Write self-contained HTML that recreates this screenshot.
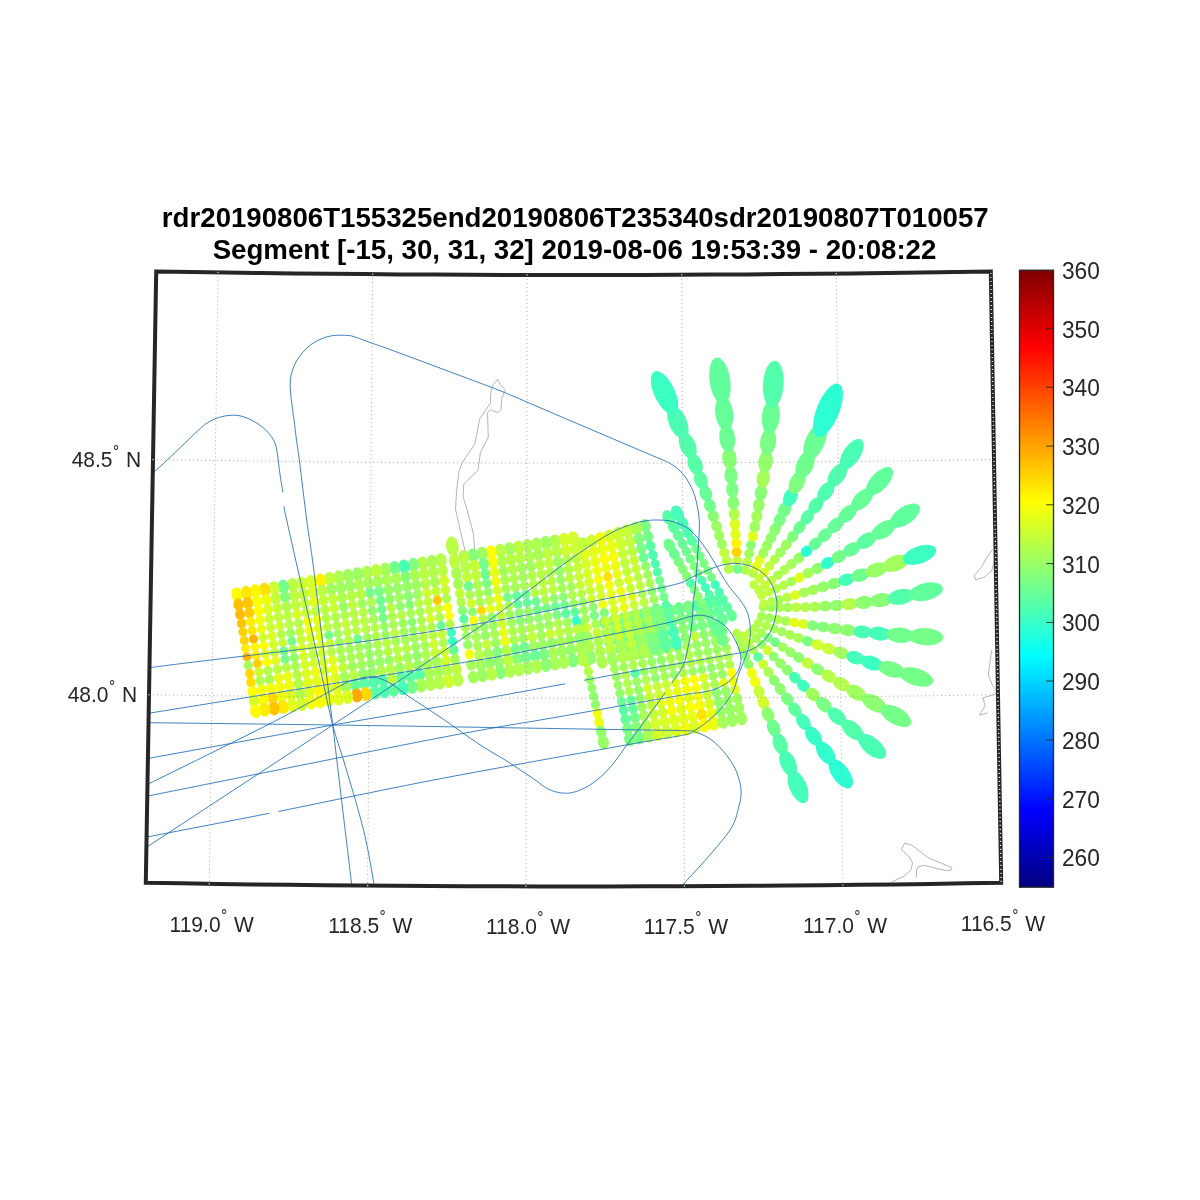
<!DOCTYPE html>
<html lang="en"><head><meta charset="utf-8"><title>rdr20190806T155325end20190806T235340sdr20190807T010057</title>
<style>html,body{margin:0;padding:0;background:#fff}svg{display:block}text{font-family:"Liberation Sans",Arial,Helvetica,sans-serif;fill:#262626}.t{font-weight:bold;font-size:27.65px;fill:#000;text-anchor:middle}.g{font-size:21px}.c{font-size:22.7px}.d{font-size:15.5px}svg{will-change:transform}</style></head><body>
<svg width="1200" height="1200" viewBox="0 0 1200 1200">
<rect width="1200" height="1200" fill="#fff"/>
<defs><linearGradient id="jet" x1="0" y1="1" x2="0" y2="0">
<stop offset="0" stop-color="#000080"/>
<stop offset="0.125" stop-color="#0000ff"/>
<stop offset="0.375" stop-color="#00ffff"/>
<stop offset="0.625" stop-color="#ffff00"/>
<stop offset="0.875" stop-color="#ff0000"/>
<stop offset="1" stop-color="#800000"/>
</linearGradient>
<clipPath id="clip"><path d="M156.2 271.5 L191 272 L225.7 272.5 L260.5 273 L295.3 273.4 L330.1 273.8 L364.8 274.1 L399.6 274.4 L434.4 274.6 L469.2 274.8 L503.9 274.9 L538.7 275 L573.5 275 L608.3 275 L643.1 274.9 L677.8 274.8 L712.6 274.6 L747.4 274.4 L782.2 274.1 L816.9 273.8 L851.7 273.4 L886.5 273 L921.3 272.5 L956 272 L990.8 271.5 L1001.2 882.8 L965.5 883.3 L929.9 883.9 L894.3 884.4 L858.6 884.8 L823 885.2 L787.3 885.5 L751.7 885.8 L716.1 886 L680.4 886.2 L644.8 886.3 L609.1 886.4 L573.5 886.4 L537.9 886.4 L502.2 886.3 L466.6 886.2 L430.9 886 L395.3 885.8 L359.7 885.5 L324 885.2 L288.4 884.8 L252.7 884.4 L217.1 883.9 L181.5 883.3 L145.8 882.8 L156.2 271.5Z"/></clipPath></defs>
<g clip-path="url(#clip)">
<g fill="none" stroke="#b4b4b4" stroke-width="1" stroke-linejoin="round">
<path d="M465.3 552.2 L460.6 531.6 L455.5 509.4 L456.6 490.4 L459 471.4 L462.2 462.7 L474.9 443.7 L479.6 419.1 L490.4 403.3 L490.7 393.8 L492.3 385.8 L497.8 379.5 L500.2 384.3 L505.3 389.8 L501.8 398.5 L501 409.6 L497.8 412.8 L490.7 409.6 L487.5 412.8 L488.3 437.3 L480.4 452.4 L478 470.6 L463.8 484.1 L463 496.7 L467 509.4 L473.3 533.2 L474.9 552.2 L476 575"/>
<path d="M992.7 549.3 L987 557 L981.8 566.7 L974.3 575.3 L975.3 579.7 L984 577.5 L991.6 571 L994.4 561.3"/>
<path d="M991.6 650.1 L990 663 L988.3 675 L992.7 685.9 L997 691.3 L994.8 694.5 L982.9 697.8 L985.1 705.4 L979.7 715.1 L987.7 712.9"/>
<path d="M891.9 881.9 L905 875.6 L911.3 869.4 L912.5 862.5 L908.8 856.3 L901.3 849.4 L904.8 843.1 L911.9 845.3 L928.8 858.1 L951.9 867.5 L951.3 870 L946.3 870.6 L935 868.1 L923.8 865.3 L918.1 866.9 L916.5 870 L916.5 877.5"/>
</g>
<g>
<ellipse cx="578.6" cy="625.6" rx="7.05" ry="5.47" fill="#84ff7b" transform="rotate(78.0 578.6 625.6)"/>
<ellipse cx="580.8" cy="635.9" rx="6.17" ry="5.16" fill="#84ff7b" transform="rotate(78.0 580.8 635.9)"/>
<ellipse cx="582.8" cy="645.5" rx="5.54" ry="4.92" fill="#8eff71" transform="rotate(78.0 582.8 645.5)"/>
<ellipse cx="584.7" cy="654.5" rx="5.08" ry="4.73" fill="#a2ff5e" transform="rotate(78.0 584.7 654.5)"/>
<ellipse cx="586.6" cy="663.2" rx="4.77" ry="4.60" fill="#baff45" transform="rotate(78.0 586.6 663.2)"/>
<circle cx="588.4" cy="671.6" r="4.58" fill="#b5ff4a"/>
<circle cx="590.1" cy="679.8" r="4.49" fill="#9dff62"/>
<circle cx="591.9" cy="688.0" r="4.49" fill="#93ff6c"/>
<circle cx="593.6" cy="696.2" r="4.58" fill="#8eff71"/>
<ellipse cx="595.4" cy="704.6" rx="4.77" ry="4.60" fill="#93ff6c" transform="rotate(78.0 595.4 704.6)"/>
<ellipse cx="597.3" cy="713.3" rx="5.08" ry="4.73" fill="#f4ff0b" transform="rotate(78.0 597.3 713.3)"/>
<ellipse cx="599.2" cy="722.3" rx="5.54" ry="4.92" fill="#eaff15" transform="rotate(78.0 599.2 722.3)"/>
<ellipse cx="601.2" cy="731.9" rx="6.17" ry="5.16" fill="#93ff6c" transform="rotate(78.0 601.2 731.9)"/>
<ellipse cx="603.4" cy="742.2" rx="7.05" ry="5.47" fill="#98ff67" transform="rotate(78.0 603.4 742.2)"/>
<ellipse cx="604.9" cy="622.8" rx="7.05" ry="5.47" fill="#82ff7d" transform="rotate(78.0 604.9 622.8)"/>
<ellipse cx="607.1" cy="633.1" rx="6.17" ry="5.16" fill="#8dff72" transform="rotate(78.0 607.1 633.1)"/>
<ellipse cx="609.1" cy="642.6" rx="5.54" ry="4.92" fill="#88ff77" transform="rotate(78.0 609.1 642.6)"/>
<ellipse cx="611.0" cy="651.7" rx="5.08" ry="4.73" fill="#7cff83" transform="rotate(78.0 611.0 651.7)"/>
<ellipse cx="612.9" cy="660.3" rx="4.77" ry="4.60" fill="#9eff61" transform="rotate(78.0 612.9 660.3)"/>
<circle cx="614.6" cy="668.7" r="4.58" fill="#a2ff5d"/>
<circle cx="616.4" cy="676.9" r="4.49" fill="#9dff62"/>
<circle cx="618.1" cy="685.1" r="4.49" fill="#9cff63"/>
<circle cx="619.9" cy="693.3" r="4.58" fill="#92ff6d"/>
<ellipse cx="621.6" cy="701.7" rx="4.77" ry="4.60" fill="#6cff93" transform="rotate(78.0 621.6 701.7)"/>
<ellipse cx="623.5" cy="710.3" rx="5.08" ry="4.73" fill="#59ffa6" transform="rotate(78.0 623.5 710.3)"/>
<ellipse cx="625.4" cy="719.4" rx="5.54" ry="4.92" fill="#62ff9d" transform="rotate(78.0 625.4 719.4)"/>
<ellipse cx="627.4" cy="728.9" rx="6.17" ry="5.16" fill="#7bff84" transform="rotate(78.0 627.4 728.9)"/>
<ellipse cx="629.6" cy="739.2" rx="7.05" ry="5.47" fill="#7fff80" transform="rotate(78.0 629.6 739.2)"/>
<ellipse cx="614.2" cy="621.1" rx="7.05" ry="5.47" fill="#8cff73" transform="rotate(78.0 614.2 621.1)"/>
<ellipse cx="616.4" cy="631.4" rx="6.17" ry="5.16" fill="#76ff89" transform="rotate(78.0 616.4 631.4)"/>
<ellipse cx="618.4" cy="640.9" rx="5.54" ry="4.92" fill="#77ff88" transform="rotate(78.0 618.4 640.9)"/>
<ellipse cx="620.3" cy="649.9" rx="5.08" ry="4.73" fill="#77ff88" transform="rotate(78.0 620.3 649.9)"/>
<ellipse cx="622.2" cy="658.6" rx="4.77" ry="4.60" fill="#9eff61" transform="rotate(78.0 622.2 658.6)"/>
<circle cx="623.9" cy="667.0" r="4.58" fill="#a0ff5f"/>
<circle cx="625.7" cy="675.2" r="4.49" fill="#b1ff4e"/>
<circle cx="627.4" cy="683.4" r="4.49" fill="#aeff51"/>
<circle cx="629.2" cy="691.6" r="4.58" fill="#afff50"/>
<ellipse cx="631.0" cy="700.0" rx="4.77" ry="4.60" fill="#62ff9d" transform="rotate(78.0 631.0 700.0)"/>
<ellipse cx="632.8" cy="708.6" rx="5.08" ry="4.73" fill="#62ff9d" transform="rotate(78.0 632.8 708.6)"/>
<ellipse cx="634.7" cy="717.6" rx="5.54" ry="4.92" fill="#71ff8e" transform="rotate(78.0 634.7 717.6)"/>
<ellipse cx="636.7" cy="727.2" rx="6.17" ry="5.16" fill="#88ff77" transform="rotate(78.0 636.7 727.2)"/>
<ellipse cx="638.9" cy="737.5" rx="7.05" ry="5.47" fill="#7aff85" transform="rotate(78.0 638.9 737.5)"/>
<ellipse cx="623.5" cy="619.4" rx="7.05" ry="5.47" fill="#83ff7c" transform="rotate(78.0 623.5 619.4)"/>
<ellipse cx="625.7" cy="629.6" rx="6.17" ry="5.16" fill="#6eff91" transform="rotate(78.0 625.7 629.6)"/>
<ellipse cx="627.7" cy="639.2" rx="5.54" ry="4.92" fill="#7cff83" transform="rotate(78.0 627.7 639.2)"/>
<ellipse cx="629.6" cy="648.2" rx="5.08" ry="4.73" fill="#8eff71" transform="rotate(78.0 629.6 648.2)"/>
<ellipse cx="631.5" cy="656.9" rx="4.77" ry="4.60" fill="#adff52" transform="rotate(78.0 631.5 656.9)"/>
<circle cx="633.2" cy="665.2" r="4.58" fill="#aeff51"/>
<circle cx="635.0" cy="673.5" r="4.49" fill="#59ffa6"/>
<circle cx="636.7" cy="681.6" r="4.49" fill="#99ff66"/>
<circle cx="638.5" cy="689.9" r="4.58" fill="#94ff6b"/>
<ellipse cx="640.3" cy="698.2" rx="4.77" ry="4.60" fill="#95ff6a" transform="rotate(78.0 640.3 698.2)"/>
<ellipse cx="642.1" cy="706.9" rx="5.08" ry="4.73" fill="#a2ff5d" transform="rotate(78.0 642.1 706.9)"/>
<ellipse cx="644.0" cy="715.9" rx="5.54" ry="4.92" fill="#a8ff57" transform="rotate(78.0 644.0 715.9)"/>
<ellipse cx="646.1" cy="725.5" rx="6.17" ry="5.16" fill="#b1ff4e" transform="rotate(78.0 646.1 725.5)"/>
<ellipse cx="648.2" cy="735.7" rx="7.05" ry="5.47" fill="#a9ff56" transform="rotate(78.0 648.2 735.7)"/>
<ellipse cx="632.8" cy="617.7" rx="7.05" ry="5.47" fill="#85ff7a" transform="rotate(78.0 632.8 617.7)"/>
<ellipse cx="635.0" cy="627.9" rx="6.17" ry="5.16" fill="#89ff76" transform="rotate(78.0 635.0 627.9)"/>
<ellipse cx="637.0" cy="637.5" rx="5.54" ry="4.92" fill="#7eff81" transform="rotate(78.0 637.0 637.5)"/>
<ellipse cx="638.9" cy="646.5" rx="5.08" ry="4.73" fill="#81ff7e" transform="rotate(78.0 638.9 646.5)"/>
<ellipse cx="640.8" cy="655.1" rx="4.77" ry="4.60" fill="#91ff6e" transform="rotate(78.0 640.8 655.1)"/>
<circle cx="642.6" cy="663.5" r="4.58" fill="#abff54"/>
<circle cx="644.3" cy="671.7" r="4.49" fill="#98ff67"/>
<circle cx="646.0" cy="679.9" r="4.49" fill="#b0ff4f"/>
<circle cx="647.8" cy="688.1" r="4.58" fill="#d2ff2d"/>
<ellipse cx="649.6" cy="696.5" rx="4.77" ry="4.60" fill="#c6ff39" transform="rotate(78.0 649.6 696.5)"/>
<ellipse cx="651.4" cy="705.1" rx="5.08" ry="4.73" fill="#c0ff3f" transform="rotate(78.0 651.4 705.1)"/>
<ellipse cx="653.3" cy="714.2" rx="5.54" ry="4.92" fill="#c5ff3a" transform="rotate(78.0 653.3 714.2)"/>
<ellipse cx="655.4" cy="723.7" rx="6.17" ry="5.16" fill="#d2ff2d" transform="rotate(78.0 655.4 723.7)"/>
<ellipse cx="657.5" cy="734.0" rx="7.05" ry="5.47" fill="#d4ff2b" transform="rotate(78.0 657.5 734.0)"/>
<ellipse cx="642.1" cy="616.0" rx="7.05" ry="5.47" fill="#72ff8d" transform="rotate(78.0 642.1 616.0)"/>
<ellipse cx="644.3" cy="626.2" rx="6.17" ry="5.16" fill="#70ff8f" transform="rotate(78.0 644.3 626.2)"/>
<ellipse cx="646.3" cy="635.8" rx="5.54" ry="4.92" fill="#80ff7f" transform="rotate(78.0 646.3 635.8)"/>
<ellipse cx="648.2" cy="644.8" rx="5.08" ry="4.73" fill="#82ff7d" transform="rotate(78.0 648.2 644.8)"/>
<ellipse cx="650.1" cy="653.4" rx="4.77" ry="4.60" fill="#9eff61" transform="rotate(78.0 650.1 653.4)"/>
<circle cx="651.9" cy="661.8" r="4.58" fill="#98ff67"/>
<circle cx="653.6" cy="670.0" r="4.49" fill="#a5ff5a"/>
<circle cx="655.4" cy="678.2" r="4.49" fill="#90ff6f"/>
<circle cx="657.1" cy="686.4" r="4.58" fill="#c6ff39"/>
<ellipse cx="658.9" cy="694.8" rx="4.77" ry="4.60" fill="#ccff33" transform="rotate(78.0 658.9 694.8)"/>
<ellipse cx="660.7" cy="703.4" rx="5.08" ry="4.73" fill="#ddff22" transform="rotate(78.0 660.7 703.4)"/>
<ellipse cx="662.6" cy="712.4" rx="5.54" ry="4.92" fill="#d2ff2d" transform="rotate(78.0 662.6 712.4)"/>
<ellipse cx="664.7" cy="722.0" rx="6.17" ry="5.16" fill="#dbff24" transform="rotate(78.0 664.7 722.0)"/>
<ellipse cx="666.9" cy="732.2" rx="7.05" ry="5.47" fill="#ccff33" transform="rotate(78.0 666.9 732.2)"/>
<ellipse cx="651.4" cy="614.3" rx="7.05" ry="5.47" fill="#76ff89" transform="rotate(78.0 651.4 614.3)"/>
<ellipse cx="653.6" cy="624.5" rx="6.17" ry="5.16" fill="#77ff88" transform="rotate(78.0 653.6 624.5)"/>
<ellipse cx="655.6" cy="634.1" rx="5.54" ry="4.92" fill="#90ff6f" transform="rotate(78.0 655.6 634.1)"/>
<ellipse cx="657.5" cy="643.1" rx="5.08" ry="4.73" fill="#87ff78" transform="rotate(78.0 657.5 643.1)"/>
<ellipse cx="659.4" cy="651.7" rx="4.77" ry="4.60" fill="#9bff64" transform="rotate(78.0 659.4 651.7)"/>
<circle cx="661.2" cy="660.1" r="4.58" fill="#91ff6e"/>
<circle cx="662.9" cy="668.3" r="4.49" fill="#a1ff5e"/>
<circle cx="664.7" cy="676.5" r="4.49" fill="#a8ff57"/>
<circle cx="666.4" cy="684.7" r="4.58" fill="#caff35"/>
<ellipse cx="668.2" cy="693.0" rx="4.77" ry="4.60" fill="#e2ff1d" transform="rotate(78.0 668.2 693.0)"/>
<ellipse cx="670.0" cy="701.7" rx="5.08" ry="4.73" fill="#f0ff0f" transform="rotate(78.0 670.0 701.7)"/>
<ellipse cx="672.0" cy="710.7" rx="5.54" ry="4.92" fill="#f9ff06" transform="rotate(78.0 672.0 710.7)"/>
<ellipse cx="674.0" cy="720.2" rx="6.17" ry="5.16" fill="#e1ff1e" transform="rotate(78.0 674.0 720.2)"/>
<ellipse cx="676.2" cy="730.5" rx="7.05" ry="5.47" fill="#daff25" transform="rotate(78.0 676.2 730.5)"/>
<ellipse cx="660.7" cy="612.5" rx="7.05" ry="5.47" fill="#7aff85" transform="rotate(78.0 660.7 612.5)"/>
<ellipse cx="662.9" cy="622.8" rx="6.17" ry="5.16" fill="#7dff82" transform="rotate(78.0 662.9 622.8)"/>
<ellipse cx="664.9" cy="632.3" rx="5.54" ry="4.92" fill="#86ff79" transform="rotate(78.0 664.9 632.3)"/>
<ellipse cx="666.8" cy="641.4" rx="5.08" ry="4.73" fill="#75ff8a" transform="rotate(78.0 666.8 641.4)"/>
<ellipse cx="668.7" cy="650.0" rx="4.77" ry="4.60" fill="#acff53" transform="rotate(78.0 668.7 650.0)"/>
<circle cx="670.5" cy="658.4" r="4.58" fill="#aaff55"/>
<circle cx="672.2" cy="666.6" r="4.49" fill="#a2ff5d"/>
<circle cx="674.0" cy="674.7" r="4.49" fill="#97ff68"/>
<circle cx="675.7" cy="682.9" r="4.58" fill="#deff21"/>
<ellipse cx="677.5" cy="691.3" rx="4.77" ry="4.60" fill="#eaff15" transform="rotate(78.0 677.5 691.3)"/>
<ellipse cx="679.4" cy="699.9" rx="5.08" ry="4.73" fill="#f6ff09" transform="rotate(78.0 679.4 699.9)"/>
<ellipse cx="681.3" cy="709.0" rx="5.54" ry="4.92" fill="#e1ff1e" transform="rotate(78.0 681.3 709.0)"/>
<ellipse cx="683.3" cy="718.5" rx="6.17" ry="5.16" fill="#e1ff1e" transform="rotate(78.0 683.3 718.5)"/>
<ellipse cx="685.5" cy="728.8" rx="7.05" ry="5.47" fill="#f3ff0c" transform="rotate(78.0 685.5 728.8)"/>
<ellipse cx="670.0" cy="610.8" rx="7.05" ry="5.47" fill="#78ff87" transform="rotate(77.9 670.0 610.8)"/>
<ellipse cx="672.2" cy="621.1" rx="6.17" ry="5.16" fill="#8fff70" transform="rotate(77.9 672.2 621.1)"/>
<ellipse cx="674.2" cy="630.6" rx="5.54" ry="4.92" fill="#7fff80" transform="rotate(77.9 674.2 630.6)"/>
<ellipse cx="676.2" cy="639.6" rx="5.08" ry="4.73" fill="#75ff8a" transform="rotate(77.9 676.2 639.6)"/>
<ellipse cx="678.0" cy="648.3" rx="4.77" ry="4.60" fill="#98ff67" transform="rotate(77.9 678.0 648.3)"/>
<circle cx="679.8" cy="656.6" r="4.58" fill="#9fff60"/>
<circle cx="681.5" cy="664.8" r="4.49" fill="#a7ff58"/>
<circle cx="683.3" cy="673.0" r="4.49" fill="#b1ff4e"/>
<circle cx="685.0" cy="681.2" r="4.58" fill="#f4ff0b"/>
<ellipse cx="686.8" cy="689.6" rx="4.77" ry="4.60" fill="#f9ff06" transform="rotate(77.9 686.8 689.6)"/>
<ellipse cx="688.7" cy="698.2" rx="5.08" ry="4.73" fill="#e0ff1f" transform="rotate(77.9 688.7 698.2)"/>
<ellipse cx="690.6" cy="707.2" rx="5.54" ry="4.92" fill="#fbff04" transform="rotate(77.9 690.6 707.2)"/>
<ellipse cx="692.6" cy="716.8" rx="6.17" ry="5.16" fill="#eaff15" transform="rotate(77.9 692.6 716.8)"/>
<ellipse cx="694.8" cy="727.0" rx="7.05" ry="5.47" fill="#dbff24" transform="rotate(77.9 694.8 727.0)"/>
<ellipse cx="679.3" cy="609.1" rx="7.05" ry="5.47" fill="#70ff8f" transform="rotate(77.9 679.3 609.1)"/>
<ellipse cx="681.5" cy="619.4" rx="6.17" ry="5.16" fill="#7cff83" transform="rotate(77.9 681.5 619.4)"/>
<ellipse cx="683.5" cy="628.9" rx="5.54" ry="4.92" fill="#8dff72" transform="rotate(77.9 683.5 628.9)"/>
<ellipse cx="685.5" cy="637.9" rx="5.08" ry="4.73" fill="#8dff72" transform="rotate(77.9 685.5 637.9)"/>
<ellipse cx="687.3" cy="646.5" rx="4.77" ry="4.60" fill="#aaff55" transform="rotate(77.9 687.3 646.5)"/>
<circle cx="689.1" cy="654.9" r="4.58" fill="#b3ff4c"/>
<circle cx="690.8" cy="663.1" r="4.49" fill="#b1ff4e"/>
<circle cx="692.6" cy="671.3" r="4.49" fill="#9cff63"/>
<circle cx="694.3" cy="679.5" r="4.58" fill="#f9ff06"/>
<ellipse cx="696.1" cy="687.9" rx="4.77" ry="4.60" fill="#feff01" transform="rotate(77.9 696.1 687.9)"/>
<ellipse cx="698.0" cy="696.5" rx="5.08" ry="4.73" fill="#f3ff0c" transform="rotate(77.9 698.0 696.5)"/>
<ellipse cx="699.9" cy="705.5" rx="5.54" ry="4.92" fill="#f4ff0b" transform="rotate(77.9 699.9 705.5)"/>
<ellipse cx="701.9" cy="715.0" rx="6.17" ry="5.16" fill="#ffe300" transform="rotate(77.9 701.9 715.0)"/>
<ellipse cx="704.1" cy="725.3" rx="7.05" ry="5.47" fill="#feff01" transform="rotate(77.9 704.1 725.3)"/>
<ellipse cx="688.6" cy="607.4" rx="7.05" ry="5.47" fill="#7bff84" transform="rotate(77.9 688.6 607.4)"/>
<ellipse cx="690.8" cy="617.7" rx="6.17" ry="5.16" fill="#7aff85" transform="rotate(77.9 690.8 617.7)"/>
<ellipse cx="692.8" cy="627.2" rx="5.54" ry="4.92" fill="#74ff8b" transform="rotate(77.9 692.8 627.2)"/>
<ellipse cx="694.8" cy="636.2" rx="5.08" ry="4.73" fill="#c3ff3c" transform="rotate(77.9 694.8 636.2)"/>
<ellipse cx="696.6" cy="644.8" rx="4.77" ry="4.60" fill="#9aff65" transform="rotate(77.9 696.6 644.8)"/>
<circle cx="698.4" cy="653.2" r="4.58" fill="#9cff63"/>
<circle cx="700.2" cy="661.4" r="4.49" fill="#b1ff4e"/>
<circle cx="701.9" cy="669.6" r="4.49" fill="#94ff6b"/>
<circle cx="703.7" cy="677.8" r="4.58" fill="#ddff22"/>
<ellipse cx="705.4" cy="686.1" rx="4.77" ry="4.60" fill="#c3ff3c" transform="rotate(77.9 705.4 686.1)"/>
<ellipse cx="707.3" cy="694.7" rx="5.08" ry="4.73" fill="#c8ff37" transform="rotate(77.9 707.3 694.7)"/>
<ellipse cx="709.2" cy="703.8" rx="5.54" ry="4.92" fill="#dcff23" transform="rotate(77.9 709.2 703.8)"/>
<ellipse cx="711.3" cy="713.3" rx="6.17" ry="5.16" fill="#eaff15" transform="rotate(77.9 711.3 713.3)"/>
<ellipse cx="713.5" cy="723.5" rx="7.05" ry="5.47" fill="#efff10" transform="rotate(77.9 713.5 723.5)"/>
<ellipse cx="697.9" cy="605.7" rx="7.05" ry="5.47" fill="#59ffa6" transform="rotate(77.9 697.9 605.7)"/>
<ellipse cx="700.1" cy="616.0" rx="6.17" ry="5.16" fill="#7fff80" transform="rotate(77.9 700.1 616.0)"/>
<ellipse cx="702.1" cy="625.5" rx="5.54" ry="4.92" fill="#7bff84" transform="rotate(77.9 702.1 625.5)"/>
<ellipse cx="704.1" cy="634.5" rx="5.08" ry="4.73" fill="#8eff71" transform="rotate(77.9 704.1 634.5)"/>
<ellipse cx="705.9" cy="643.1" rx="4.77" ry="4.60" fill="#97ff68" transform="rotate(77.9 705.9 643.1)"/>
<circle cx="707.7" cy="651.5" r="4.58" fill="#9dff62"/>
<circle cx="709.5" cy="659.7" r="4.49" fill="#afff50"/>
<circle cx="711.2" cy="667.8" r="4.49" fill="#91ff6e"/>
<circle cx="713.0" cy="676.0" r="4.58" fill="#9eff61"/>
<ellipse cx="714.8" cy="684.4" rx="4.77" ry="4.60" fill="#acff53" transform="rotate(77.9 714.8 684.4)"/>
<ellipse cx="716.6" cy="693.0" rx="5.08" ry="4.73" fill="#93ff6c" transform="rotate(77.9 716.6 693.0)"/>
<ellipse cx="718.5" cy="702.0" rx="5.54" ry="4.92" fill="#93ff6c" transform="rotate(77.9 718.5 702.0)"/>
<ellipse cx="720.6" cy="711.5" rx="6.17" ry="5.16" fill="#98ff67" transform="rotate(77.9 720.6 711.5)"/>
<ellipse cx="722.8" cy="721.8" rx="7.05" ry="5.47" fill="#a6ff59" transform="rotate(77.9 722.8 721.8)"/>
<ellipse cx="707.2" cy="604.0" rx="7.05" ry="5.47" fill="#4fffb0" transform="rotate(77.9 707.2 604.0)"/>
<ellipse cx="709.4" cy="614.2" rx="6.17" ry="5.16" fill="#54ffab" transform="rotate(77.9 709.4 614.2)"/>
<ellipse cx="711.4" cy="623.8" rx="5.54" ry="4.92" fill="#88ff77" transform="rotate(77.9 711.4 623.8)"/>
<ellipse cx="713.4" cy="632.8" rx="5.08" ry="4.73" fill="#8dff72" transform="rotate(77.9 713.4 632.8)"/>
<ellipse cx="715.2" cy="641.4" rx="4.77" ry="4.60" fill="#9cff63" transform="rotate(77.9 715.2 641.4)"/>
<circle cx="717.0" cy="649.7" r="4.58" fill="#9aff65"/>
<circle cx="718.8" cy="657.9" r="4.49" fill="#b2ff4d"/>
<circle cx="720.5" cy="666.1" r="4.49" fill="#a6ff59"/>
<circle cx="722.3" cy="674.3" r="4.58" fill="#99ff66"/>
<ellipse cx="724.1" cy="682.7" rx="4.77" ry="4.60" fill="#e5ff1a" transform="rotate(77.9 724.1 682.7)"/>
<ellipse cx="725.9" cy="691.3" rx="5.08" ry="4.73" fill="#98ff67" transform="rotate(77.9 725.9 691.3)"/>
<ellipse cx="727.8" cy="700.3" rx="5.54" ry="4.92" fill="#98ff67" transform="rotate(77.9 727.8 700.3)"/>
<ellipse cx="729.9" cy="709.8" rx="6.17" ry="5.16" fill="#98ff67" transform="rotate(77.9 729.9 709.8)"/>
<ellipse cx="732.1" cy="720.0" rx="7.05" ry="5.47" fill="#9dff62" transform="rotate(77.9 732.1 720.0)"/>
<ellipse cx="716.5" cy="602.3" rx="7.05" ry="5.47" fill="#54ffab" transform="rotate(77.9 716.5 602.3)"/>
<ellipse cx="718.7" cy="612.5" rx="6.17" ry="5.16" fill="#5effa2" transform="rotate(77.9 718.7 612.5)"/>
<ellipse cx="720.7" cy="622.1" rx="5.54" ry="4.92" fill="#67ff98" transform="rotate(77.9 720.7 622.1)"/>
<ellipse cx="722.7" cy="631.1" rx="5.08" ry="4.73" fill="#6fff90" transform="rotate(77.9 722.7 631.1)"/>
<ellipse cx="724.5" cy="639.7" rx="4.77" ry="4.60" fill="#98ff67" transform="rotate(77.9 724.5 639.7)"/>
<circle cx="726.3" cy="648.0" r="4.58" fill="#a1ff5e"/>
<circle cx="728.1" cy="656.2" r="4.49" fill="#b1ff4e"/>
<circle cx="729.8" cy="664.4" r="4.49" fill="#b1ff4e"/>
<circle cx="731.6" cy="672.6" r="4.58" fill="#feff01"/>
<ellipse cx="733.4" cy="680.9" rx="4.77" ry="4.60" fill="#f4ff0b" transform="rotate(77.9 733.4 680.9)"/>
<ellipse cx="735.2" cy="689.5" rx="5.08" ry="4.73" fill="#e1ff1e" transform="rotate(77.9 735.2 689.5)"/>
<ellipse cx="737.2" cy="698.5" rx="5.54" ry="4.92" fill="#a2ff5e" transform="rotate(77.9 737.2 698.5)"/>
<ellipse cx="739.2" cy="708.1" rx="6.17" ry="5.16" fill="#a2ff5e" transform="rotate(77.9 739.2 708.1)"/>
<ellipse cx="741.4" cy="718.3" rx="7.05" ry="5.47" fill="#a2ff5e" transform="rotate(77.9 741.4 718.3)"/>
<circle cx="736.8" cy="633.3" r="4.55" fill="#b3ff4c"/>
<circle cx="739.6" cy="640.8" r="4.58" fill="#a9ff56"/>
<circle cx="742.5" cy="648.4" r="4.67" fill="#a9ff56"/>
<circle cx="745.4" cy="656.2" r="4.82" fill="#8eff71"/>
<ellipse cx="748.5" cy="664.3" rx="5.05" ry="4.78" fill="#8eff71" transform="rotate(69.0 748.5 664.3)"/>
<ellipse cx="751.8" cy="672.9" rx="5.37" ry="4.93" fill="#efff10" transform="rotate(68.9 751.8 672.9)"/>
<ellipse cx="755.3" cy="681.9" rx="5.79" ry="5.11" fill="#efff10" transform="rotate(68.7 755.3 681.9)"/>
<ellipse cx="759.1" cy="691.7" rx="6.34" ry="5.34" fill="#c8ff37" transform="rotate(68.6 759.1 691.7)"/>
<ellipse cx="763.4" cy="702.5" rx="7.07" ry="5.62" fill="#d2ff2d" transform="rotate(68.4 763.4 702.5)"/>
<ellipse cx="768.1" cy="714.5" rx="8.04" ry="5.98" fill="#8eff71" transform="rotate(68.2 768.1 714.5)"/>
<ellipse cx="773.7" cy="728.2" rx="9.35" ry="6.43" fill="#71ff8e" transform="rotate(67.9 773.7 728.2)"/>
<ellipse cx="780.2" cy="744.1" rx="11.15" ry="7.00" fill="#59ffa6" transform="rotate(67.6 780.2 744.1)"/>
<ellipse cx="788.1" cy="763.2" rx="13.70" ry="7.73" fill="#4affb5" transform="rotate(67.3 788.1 763.2)"/>
<ellipse cx="798.0" cy="786.7" rx="17.47" ry="8.69" fill="#45ffba" transform="rotate(66.9 798.0 786.7)"/>
<circle cx="743.9" cy="636.0" r="4.55" fill="#bdff42"/>
<circle cx="748.5" cy="642.9" r="4.58" fill="#bdff42"/>
<circle cx="753.2" cy="649.8" r="4.67" fill="#a9ff56"/>
<circle cx="758.1" cy="657.0" r="4.82" fill="#5effa2"/>
<ellipse cx="763.1" cy="664.3" rx="5.04" ry="4.78" fill="#c8ff37" transform="rotate(55.5 763.1 664.3)"/>
<ellipse cx="768.4" cy="672.0" rx="5.35" ry="4.92" fill="#abff54" transform="rotate(55.4 768.4 672.0)"/>
<ellipse cx="774.1" cy="680.3" rx="5.76" ry="5.10" fill="#8eff71" transform="rotate(55.3 774.1 680.3)"/>
<ellipse cx="780.3" cy="689.1" rx="6.30" ry="5.32" fill="#8eff71" transform="rotate(55.1 780.3 689.1)"/>
<ellipse cx="787.1" cy="698.8" rx="7.01" ry="5.60" fill="#7bff84" transform="rotate(55.0 787.1 698.8)"/>
<ellipse cx="794.7" cy="709.6" rx="7.95" ry="5.95" fill="#62ff9d" transform="rotate(54.8 794.7 709.6)"/>
<ellipse cx="803.4" cy="721.9" rx="9.21" ry="6.39" fill="#45ffba" transform="rotate(54.6 803.4 721.9)"/>
<ellipse cx="813.5" cy="736.1" rx="10.94" ry="6.94" fill="#37ffc8" transform="rotate(54.3 813.5 736.1)"/>
<ellipse cx="825.7" cy="753.1" rx="13.38" ry="7.64" fill="#32ffcd" transform="rotate(54.1 825.7 753.1)"/>
<ellipse cx="840.8" cy="773.8" rx="16.94" ry="8.56" fill="#2dffd2" transform="rotate(53.7 840.8 773.8)"/>
<circle cx="750.2" cy="632.3" r="4.55" fill="#bdff42"/>
<circle cx="755.8" cy="638.3" r="4.58" fill="#a9ff56"/>
<circle cx="761.6" cy="644.3" r="4.67" fill="#96ff69"/>
<circle cx="767.5" cy="650.4" r="4.82" fill="#d2ff2d"/>
<ellipse cx="773.7" cy="656.7" rx="5.04" ry="4.78" fill="#8eff71" transform="rotate(45.3 773.7 656.7)"/>
<ellipse cx="780.3" cy="663.3" rx="5.35" ry="4.92" fill="#98ff67" transform="rotate(44.9 780.3 663.3)"/>
<ellipse cx="787.3" cy="670.2" rx="5.76" ry="5.10" fill="#8eff71" transform="rotate(44.5 787.3 670.2)"/>
<ellipse cx="794.9" cy="677.7" rx="6.30" ry="5.32" fill="#4affb5" transform="rotate(44.0 794.9 677.7)"/>
<ellipse cx="803.4" cy="685.8" rx="7.01" ry="5.60" fill="#40ffbf" transform="rotate(43.5 803.4 685.8)"/>
<ellipse cx="813.0" cy="694.7" rx="7.95" ry="5.95" fill="#a2ff5e" transform="rotate(42.9 813.0 694.7)"/>
<ellipse cx="823.9" cy="704.8" rx="9.21" ry="6.39" fill="#7bff84" transform="rotate(42.2 823.9 704.8)"/>
<ellipse cx="836.9" cy="716.4" rx="10.94" ry="6.94" fill="#4fffb0" transform="rotate(41.4 836.9 716.4)"/>
<ellipse cx="852.5" cy="729.9" rx="13.38" ry="7.64" fill="#54ffab" transform="rotate(40.5 852.5 729.9)"/>
<ellipse cx="872.0" cy="746.3" rx="16.94" ry="8.56" fill="#4affb5" transform="rotate(39.4 872.0 746.3)"/>
<circle cx="754.4" cy="628.5" r="4.55" fill="#b3ff4c"/>
<circle cx="761.2" cy="633.1" r="4.58" fill="#a9ff56"/>
<circle cx="768.1" cy="637.6" r="4.67" fill="#82ff7d"/>
<circle cx="775.2" cy="642.3" r="4.82" fill="#71ff8e"/>
<ellipse cx="782.6" cy="647.1" rx="5.04" ry="4.78" fill="#a2ff5e" transform="rotate(32.9 782.6 647.1)"/>
<ellipse cx="790.3" cy="652.1" rx="5.35" ry="4.92" fill="#98ff67" transform="rotate(32.7 790.3 652.1)"/>
<ellipse cx="798.6" cy="657.4" rx="5.76" ry="5.10" fill="#8eff71" transform="rotate(32.5 798.6 657.4)"/>
<ellipse cx="807.6" cy="663.1" rx="6.30" ry="5.32" fill="#bfff40" transform="rotate(32.2 807.6 663.1)"/>
<ellipse cx="817.5" cy="669.3" rx="7.01" ry="5.60" fill="#8eff71" transform="rotate(31.9 817.5 669.3)"/>
<ellipse cx="828.6" cy="676.1" rx="7.95" ry="5.95" fill="#b5ff4a" transform="rotate(31.5 828.6 676.1)"/>
<ellipse cx="841.3" cy="683.9" rx="9.21" ry="6.39" fill="#b5ff4a" transform="rotate(31.1 841.3 683.9)"/>
<ellipse cx="856.1" cy="692.7" rx="10.94" ry="6.94" fill="#a2ff5e" transform="rotate(30.7 856.1 692.7)"/>
<ellipse cx="873.9" cy="703.2" rx="13.38" ry="7.64" fill="#8eff71" transform="rotate(30.2 873.9 703.2)"/>
<ellipse cx="895.8" cy="715.8" rx="16.94" ry="8.56" fill="#76ff89" transform="rotate(29.5 895.8 715.8)"/>
<circle cx="758.5" cy="622.9" r="4.55" fill="#b3ff4c"/>
<circle cx="766.1" cy="625.8" r="4.58" fill="#b3ff4c"/>
<circle cx="773.7" cy="628.7" r="4.67" fill="#a9ff56"/>
<circle cx="781.6" cy="631.7" r="4.82" fill="#a2ff5e"/>
<ellipse cx="789.8" cy="634.8" rx="5.05" ry="4.78" fill="#abff54" transform="rotate(20.3 789.8 634.8)"/>
<ellipse cx="798.5" cy="637.9" rx="5.37" ry="4.93" fill="#abff54" transform="rotate(20.0 798.5 637.9)"/>
<ellipse cx="807.7" cy="641.3" rx="5.79" ry="5.11" fill="#7bff84" transform="rotate(19.8 807.7 641.3)"/>
<ellipse cx="817.7" cy="644.8" rx="6.34" ry="5.34" fill="#d2ff2d" transform="rotate(19.5 817.7 644.8)"/>
<ellipse cx="828.7" cy="648.7" rx="7.07" ry="5.62" fill="#c8ff37" transform="rotate(19.2 828.7 648.7)"/>
<ellipse cx="841.0" cy="652.9" rx="8.04" ry="5.98" fill="#a2ff5e" transform="rotate(18.8 841.0 652.9)"/>
<ellipse cx="855.2" cy="657.7" rx="9.35" ry="6.43" fill="#45ffba" transform="rotate(18.4 855.2 657.7)"/>
<ellipse cx="871.7" cy="663.1" rx="11.15" ry="7.00" fill="#3cffc3" transform="rotate(17.9 871.7 663.1)"/>
<ellipse cx="891.6" cy="669.4" rx="13.70" ry="7.73" fill="#76ff89" transform="rotate(17.3 891.6 669.4)"/>
<ellipse cx="916.2" cy="677.0" rx="17.47" ry="8.69" fill="#76ff89" transform="rotate(16.6 916.2 677.0)"/>
<circle cx="761.5" cy="616.4" r="4.55" fill="#a9ff56"/>
<circle cx="769.4" cy="617.9" r="4.58" fill="#a4ff5b"/>
<circle cx="777.4" cy="619.5" r="4.67" fill="#b3ff4c"/>
<circle cx="785.7" cy="621.0" r="4.82" fill="#abff54"/>
<ellipse cx="794.2" cy="622.5" rx="5.05" ry="4.78" fill="#e5ff1a" transform="rotate(9.7 794.2 622.5)"/>
<ellipse cx="803.2" cy="624.0" rx="5.37" ry="4.93" fill="#dcff23" transform="rotate(9.2 803.2 624.0)"/>
<ellipse cx="812.8" cy="625.5" rx="5.79" ry="5.11" fill="#84ff7b" transform="rotate(8.7 812.8 625.5)"/>
<ellipse cx="823.3" cy="627.0" rx="6.34" ry="5.34" fill="#84ff7b" transform="rotate(8.1 823.3 627.0)"/>
<ellipse cx="834.7" cy="628.6" rx="7.07" ry="5.62" fill="#8eff71" transform="rotate(7.5 834.7 628.6)"/>
<ellipse cx="847.6" cy="630.2" rx="8.04" ry="5.98" fill="#8eff71" transform="rotate(6.8 847.6 630.2)"/>
<ellipse cx="862.3" cy="631.9" rx="9.35" ry="6.43" fill="#4affb5" transform="rotate(6.0 862.3 631.9)"/>
<ellipse cx="879.5" cy="633.6" rx="11.15" ry="7.00" fill="#45ffba" transform="rotate(5.1 879.5 633.6)"/>
<ellipse cx="900.2" cy="635.2" rx="13.70" ry="7.73" fill="#71ff8e" transform="rotate(4.0 900.2 635.2)"/>
<ellipse cx="925.8" cy="636.7" rx="17.47" ry="8.69" fill="#76ff89" transform="rotate(2.7 925.8 636.7)"/>
<circle cx="763.2" cy="607.2" r="4.55" fill="#a9ff56"/>
<circle cx="771.2" cy="607.4" r="4.58" fill="#a0ff5f"/>
<circle cx="779.3" cy="607.5" r="4.67" fill="#aeff51"/>
<circle cx="787.6" cy="607.5" r="4.82" fill="#a4ff5b"/>
<ellipse cx="796.2" cy="607.4" rx="5.05" ry="4.78" fill="#bdff42" transform="rotate(-1.1 796.2 607.4)"/>
<ellipse cx="805.2" cy="607.1" rx="5.37" ry="4.93" fill="#b3ff4c" transform="rotate(-1.9 805.2 607.1)"/>
<ellipse cx="814.8" cy="606.8" rx="5.79" ry="5.11" fill="#a9ff56" transform="rotate(-2.8 814.8 606.8)"/>
<ellipse cx="825.2" cy="606.2" rx="6.34" ry="5.34" fill="#98ff67" transform="rotate(-3.7 825.2 606.2)"/>
<ellipse cx="836.6" cy="605.3" rx="7.07" ry="5.62" fill="#93ff6c" transform="rotate(-4.7 836.6 605.3)"/>
<ellipse cx="849.3" cy="604.1" rx="8.04" ry="5.98" fill="#b5ff4a" transform="rotate(-5.8 849.3 604.1)"/>
<ellipse cx="863.8" cy="602.5" rx="9.35" ry="6.43" fill="#8eff71" transform="rotate(-7.1 863.8 602.5)"/>
<ellipse cx="880.7" cy="600.2" rx="11.15" ry="7.00" fill="#89ff76" transform="rotate(-8.6 880.7 600.2)"/>
<ellipse cx="900.9" cy="596.8" rx="13.70" ry="7.73" fill="#54ffab" transform="rotate(-10.4 900.9 596.8)"/>
<ellipse cx="925.8" cy="591.7" rx="17.47" ry="8.69" fill="#62ff9d" transform="rotate(-12.6 925.8 591.7)"/>
<circle cx="763.7" cy="603.8" r="4.55" fill="#bdff42"/>
<circle cx="771.3" cy="601.7" r="4.58" fill="#b3ff4c"/>
<circle cx="779.1" cy="599.6" r="4.67" fill="#a9ff56"/>
<circle cx="787.1" cy="597.4" r="4.82" fill="#b8ff47"/>
<ellipse cx="795.3" cy="595.0" rx="5.05" ry="4.78" fill="#dfff20" transform="rotate(-16.0 795.3 595.0)"/>
<ellipse cx="804.0" cy="592.5" rx="5.37" ry="4.93" fill="#a9ff56" transform="rotate(-16.3 804.0 592.5)"/>
<ellipse cx="813.2" cy="589.8" rx="5.79" ry="5.11" fill="#a4ff5b" transform="rotate(-16.5 813.2 589.8)"/>
<ellipse cx="823.1" cy="586.8" rx="6.34" ry="5.34" fill="#93ff6c" transform="rotate(-16.8 823.1 586.8)"/>
<ellipse cx="834.1" cy="583.5" rx="7.07" ry="5.62" fill="#89ff76" transform="rotate(-17.2 834.1 583.5)"/>
<ellipse cx="846.3" cy="579.7" rx="8.04" ry="5.98" fill="#45ffba" transform="rotate(-17.5 846.3 579.7)"/>
<ellipse cx="860.2" cy="575.2" rx="9.35" ry="6.43" fill="#71ff8e" transform="rotate(-18.0 860.2 575.2)"/>
<ellipse cx="876.3" cy="569.9" rx="11.15" ry="7.00" fill="#98ff67" transform="rotate(-18.5 876.3 569.9)"/>
<ellipse cx="895.7" cy="563.3" rx="13.70" ry="7.73" fill="#a2ff5e" transform="rotate(-19.1 895.7 563.3)"/>
<ellipse cx="919.5" cy="554.9" rx="17.47" ry="8.69" fill="#3cffc3" transform="rotate(-19.8 919.5 554.9)"/>
<circle cx="761.4" cy="595.3" r="4.55" fill="#c6ff39"/>
<circle cx="768.7" cy="592.0" r="4.58" fill="#bdff42"/>
<circle cx="776.1" cy="588.7" r="4.67" fill="#b3ff4c"/>
<circle cx="783.6" cy="585.2" r="4.82" fill="#b3ff4c"/>
<ellipse cx="791.4" cy="581.5" rx="5.05" ry="4.78" fill="#a9ff56" transform="rotate(-25.8 791.4 581.5)"/>
<ellipse cx="799.5" cy="577.5" rx="5.37" ry="4.93" fill="#dfff20" transform="rotate(-26.4 799.5 577.5)"/>
<ellipse cx="808.1" cy="573.1" rx="5.79" ry="5.11" fill="#a9ff56" transform="rotate(-27.0 808.1 573.1)"/>
<ellipse cx="817.4" cy="568.4" rx="6.34" ry="5.34" fill="#8eff71" transform="rotate(-27.7 817.4 568.4)"/>
<ellipse cx="827.5" cy="563.0" rx="7.07" ry="5.62" fill="#32ffcd" transform="rotate(-28.5 827.5 563.0)"/>
<ellipse cx="838.8" cy="556.8" rx="8.04" ry="5.98" fill="#76ff89" transform="rotate(-29.3 838.8 556.8)"/>
<ellipse cx="851.5" cy="549.5" rx="9.35" ry="6.43" fill="#67ff98" transform="rotate(-30.3 851.5 549.5)"/>
<ellipse cx="866.2" cy="540.7" rx="11.15" ry="7.00" fill="#5effa2" transform="rotate(-31.4 866.2 540.7)"/>
<ellipse cx="883.5" cy="529.9" rx="13.70" ry="7.73" fill="#67ff98" transform="rotate(-32.7 883.5 529.9)"/>
<ellipse cx="904.7" cy="515.8" rx="17.47" ry="8.69" fill="#62ff9d" transform="rotate(-34.3 904.7 515.8)"/>
<circle cx="758.8" cy="590.1" r="4.55" fill="#bdff42"/>
<circle cx="765.1" cy="585.2" r="4.58" fill="#c6ff39"/>
<circle cx="771.4" cy="580.3" r="4.67" fill="#c2ff3d"/>
<circle cx="777.9" cy="575.2" r="4.82" fill="#aeff51"/>
<ellipse cx="784.5" cy="569.8" rx="5.05" ry="4.78" fill="#aeff51" transform="rotate(-39.2 784.5 569.8)"/>
<ellipse cx="791.4" cy="564.1" rx="5.37" ry="4.93" fill="#a4ff5b" transform="rotate(-39.7 791.4 564.1)"/>
<ellipse cx="798.8" cy="558.0" rx="5.79" ry="5.11" fill="#9bff64" transform="rotate(-40.3 798.8 558.0)"/>
<ellipse cx="806.6" cy="551.2" rx="6.34" ry="5.34" fill="#28ffd7" transform="rotate(-40.9 806.6 551.2)"/>
<ellipse cx="815.2" cy="543.7" rx="7.07" ry="5.62" fill="#67ff98" transform="rotate(-41.5 815.2 543.7)"/>
<ellipse cx="824.7" cy="535.2" rx="8.04" ry="5.98" fill="#6cff93" transform="rotate(-42.3 824.7 535.2)"/>
<ellipse cx="835.3" cy="525.4" rx="9.35" ry="6.43" fill="#67ff98" transform="rotate(-43.1 835.3 525.4)"/>
<ellipse cx="847.6" cy="513.7" rx="11.15" ry="7.00" fill="#67ff98" transform="rotate(-44.1 847.6 513.7)"/>
<ellipse cx="862.1" cy="499.4" rx="13.70" ry="7.73" fill="#67ff98" transform="rotate(-45.3 862.1 499.4)"/>
<ellipse cx="879.5" cy="481.2" rx="17.47" ry="8.69" fill="#62ff9d" transform="rotate(-46.8 879.5 481.2)"/>
<circle cx="754.0" cy="584.8" r="4.55" fill="#bdff42"/>
<circle cx="759.1" cy="578.6" r="4.58" fill="#c6ff39"/>
<circle cx="764.2" cy="572.4" r="4.67" fill="#dfff20"/>
<circle cx="769.4" cy="566.0" r="4.82" fill="#c2ff3d"/>
<ellipse cx="774.7" cy="559.3" rx="5.05" ry="4.78" fill="#b3ff4c" transform="rotate(-51.5 774.7 559.3)"/>
<ellipse cx="780.3" cy="552.3" rx="5.37" ry="4.93" fill="#a0ff5f" transform="rotate(-51.8 780.3 552.3)"/>
<ellipse cx="786.2" cy="544.7" rx="5.79" ry="5.11" fill="#a0ff5f" transform="rotate(-52.1 786.2 544.7)"/>
<ellipse cx="792.6" cy="536.5" rx="6.34" ry="5.34" fill="#84ff7b" transform="rotate(-52.5 792.6 536.5)"/>
<ellipse cx="799.5" cy="527.4" rx="7.07" ry="5.62" fill="#6cff93" transform="rotate(-52.9 799.5 527.4)"/>
<ellipse cx="807.2" cy="517.2" rx="8.04" ry="5.98" fill="#59ffa6" transform="rotate(-53.4 807.2 517.2)"/>
<ellipse cx="815.8" cy="505.4" rx="9.35" ry="6.43" fill="#54ffab" transform="rotate(-53.9 815.8 505.4)"/>
<ellipse cx="825.8" cy="491.7" rx="11.15" ry="7.00" fill="#4fffb0" transform="rotate(-54.5 825.8 491.7)"/>
<ellipse cx="837.5" cy="475.0" rx="13.70" ry="7.73" fill="#4fffb0" transform="rotate(-55.2 837.5 475.0)"/>
<ellipse cx="851.7" cy="454.2" rx="17.47" ry="8.69" fill="#4affb5" transform="rotate(-56.1 851.7 454.2)"/>
<circle cx="752.9" cy="573.2" r="4.82" fill="#b3ff4c"/>
<circle cx="756.4" cy="566.6" r="4.86" fill="#e8ff17"/>
<circle cx="759.8" cy="559.8" r="4.98" fill="#e4ff1b"/>
<ellipse cx="763.4" cy="552.9" rx="5.18" ry="4.99" fill="#a0ff5f" transform="rotate(-63.1 763.4 552.9)"/>
<ellipse cx="767.0" cy="545.6" rx="5.49" ry="5.13" fill="#9bff64" transform="rotate(-63.4 767.0 545.6)"/>
<ellipse cx="770.9" cy="537.8" rx="5.92" ry="5.32" fill="#91ff6e" transform="rotate(-63.7 770.9 537.8)"/>
<ellipse cx="775.1" cy="529.3" rx="6.50" ry="5.57" fill="#8cff73" transform="rotate(-64.0 775.1 529.3)"/>
<ellipse cx="779.6" cy="520.0" rx="7.30" ry="5.89" fill="#7bff84" transform="rotate(-64.3 779.6 520.0)"/>
<ellipse cx="784.7" cy="509.4" rx="8.38" ry="6.29" fill="#76ff89" transform="rotate(-64.7 784.7 509.4)"/>
<ellipse cx="790.4" cy="497.1" rx="9.89" ry="6.81" fill="#40ffbf" transform="rotate(-65.1 790.4 497.1)"/>
<ellipse cx="797.1" cy="482.5" rx="12.04" ry="7.49" fill="#80ff80" transform="rotate(-65.6 797.1 482.5)"/>
<ellipse cx="805.1" cy="464.6" rx="15.23" ry="8.39" fill="#71ff8e" transform="rotate(-66.2 805.1 464.6)"/>
<ellipse cx="815.1" cy="441.5" rx="20.18" ry="9.60" fill="#6cff93" transform="rotate(-67.0 815.1 441.5)"/>
<ellipse cx="828.0" cy="410.3" rx="28.46" ry="11.33" fill="#2dffd2" transform="rotate(-68.0 828.0 410.3)"/>
<circle cx="745.2" cy="570.1" r="4.82" fill="#b3ff4c"/>
<circle cx="747.2" cy="561.9" r="4.86" fill="#bdff42"/>
<circle cx="749.1" cy="553.6" r="4.97" fill="#a0ff5f"/>
<ellipse cx="751.0" cy="545.0" rx="5.15" ry="4.98" fill="#8cff73" transform="rotate(-77.8 751.0 545.0)"/>
<ellipse cx="752.9" cy="536.1" rx="5.43" ry="5.11" fill="#dfff20" transform="rotate(-78.3 752.9 536.1)"/>
<ellipse cx="754.8" cy="526.6" rx="5.82" ry="5.28" fill="#a0ff5f" transform="rotate(-78.8 754.8 526.6)"/>
<ellipse cx="756.8" cy="516.4" rx="6.34" ry="5.50" fill="#a4ff5b" transform="rotate(-79.3 756.8 516.4)"/>
<ellipse cx="758.8" cy="505.2" rx="7.05" ry="5.79" fill="#98ff67" transform="rotate(-79.9 758.8 505.2)"/>
<ellipse cx="760.9" cy="492.7" rx="7.99" ry="6.15" fill="#89ff76" transform="rotate(-80.6 760.9 492.7)"/>
<ellipse cx="763.2" cy="478.4" rx="9.28" ry="6.61" fill="#a6ff59" transform="rotate(-81.4 763.2 478.4)"/>
<ellipse cx="765.6" cy="461.7" rx="11.08" ry="7.20" fill="#93ff6c" transform="rotate(-82.3 765.6 461.7)"/>
<ellipse cx="768.1" cy="441.7" rx="13.65" ry="7.96" fill="#7bff84" transform="rotate(-83.3 768.1 441.7)"/>
<ellipse cx="770.8" cy="416.7" rx="17.49" ry="8.96" fill="#6cff93" transform="rotate(-84.6 770.8 416.7)"/>
<ellipse cx="773.3" cy="384.2" rx="23.55" ry="10.34" fill="#54ffab" transform="rotate(-86.3 773.3 384.2)"/>
<circle cx="737.4" cy="569.0" r="4.82" fill="#6fff90"/>
<circle cx="737.0" cy="560.6" r="4.86" fill="#c6ff39"/>
<circle cx="736.6" cy="552.0" r="4.97" fill="#ffd200"/>
<ellipse cx="736.1" cy="543.2" rx="5.15" ry="4.98" fill="#fff400" transform="rotate(-93.3 736.1 543.2)"/>
<ellipse cx="735.5" cy="534.1" rx="5.43" ry="5.11" fill="#e4ff1b" transform="rotate(-93.6 735.5 534.1)"/>
<ellipse cx="734.9" cy="524.4" rx="5.82" ry="5.28" fill="#dfff20" transform="rotate(-93.8 734.9 524.4)"/>
<ellipse cx="734.2" cy="514.0" rx="6.34" ry="5.50" fill="#b3ff4c" transform="rotate(-94.2 734.2 514.0)"/>
<ellipse cx="733.3" cy="502.6" rx="7.05" ry="5.79" fill="#89ff76" transform="rotate(-94.5 733.3 502.6)"/>
<ellipse cx="732.3" cy="489.8" rx="7.99" ry="6.15" fill="#7bff84" transform="rotate(-94.9 732.3 489.8)"/>
<ellipse cx="731.0" cy="475.4" rx="9.28" ry="6.61" fill="#7bff84" transform="rotate(-95.3 731.0 475.4)"/>
<ellipse cx="729.4" cy="458.5" rx="11.08" ry="7.20" fill="#89ff76" transform="rotate(-95.8 729.4 458.5)"/>
<ellipse cx="727.2" cy="438.3" rx="13.65" ry="7.96" fill="#6cff93" transform="rotate(-96.4 727.2 438.3)"/>
<ellipse cx="724.2" cy="413.2" rx="17.49" ry="8.96" fill="#67ff98" transform="rotate(-97.1 724.2 413.2)"/>
<ellipse cx="719.9" cy="380.8" rx="23.55" ry="10.34" fill="#62ff9d" transform="rotate(-98.1 719.9 380.8)"/>
<circle cx="728.7" cy="569.0" r="4.82" fill="#b3ff4c"/>
<circle cx="726.5" cy="560.9" r="4.86" fill="#bdff42"/>
<circle cx="724.3" cy="552.7" r="4.97" fill="#c2ff3d"/>
<ellipse cx="721.9" cy="544.3" rx="5.15" ry="4.98" fill="#a0ff5f" transform="rotate(-106.1 721.9 544.3)"/>
<ellipse cx="719.3" cy="535.5" rx="5.43" ry="5.11" fill="#a0ff5f" transform="rotate(-106.7 719.3 535.5)"/>
<ellipse cx="716.5" cy="526.3" rx="5.82" ry="5.28" fill="#9bff64" transform="rotate(-107.2 716.5 526.3)"/>
<ellipse cx="713.4" cy="516.4" rx="6.34" ry="5.50" fill="#8cff73" transform="rotate(-107.8 713.4 516.4)"/>
<ellipse cx="709.8" cy="505.6" rx="7.05" ry="5.79" fill="#71ff8e" transform="rotate(-108.4 709.8 505.6)"/>
<ellipse cx="705.8" cy="493.6" rx="7.99" ry="6.15" fill="#67ff98" transform="rotate(-109.2 705.8 493.6)"/>
<ellipse cx="700.9" cy="480.1" rx="9.28" ry="6.61" fill="#5effa2" transform="rotate(-110.0 700.9 480.1)"/>
<ellipse cx="695.1" cy="464.3" rx="11.08" ry="7.20" fill="#59ffa6" transform="rotate(-110.9 695.1 464.3)"/>
<ellipse cx="687.7" cy="445.5" rx="13.65" ry="7.96" fill="#54ffab" transform="rotate(-112.1 687.7 445.5)"/>
<ellipse cx="677.9" cy="422.4" rx="17.49" ry="8.96" fill="#4affb5" transform="rotate(-113.5 677.9 422.4)"/>
<ellipse cx="664.5" cy="392.8" rx="23.55" ry="10.34" fill="#3cffc3" transform="rotate(-115.3 664.5 392.8)"/>
<ellipse cx="669.5" cy="545.5" rx="7.30" ry="5.55" fill="#71ff8e" transform="rotate(60.7 669.5 545.5)"/>
<ellipse cx="674.3" cy="554.0" rx="6.35" ry="5.22" fill="#6cff93" transform="rotate(60.7 674.3 554.0)"/>
<ellipse cx="678.7" cy="561.9" rx="5.66" ry="4.96" fill="#7bff84" transform="rotate(60.7 678.7 561.9)"/>
<ellipse cx="682.8" cy="569.3" rx="5.17" ry="4.77" fill="#84ff7b" transform="rotate(60.7 682.8 569.3)"/>
<ellipse cx="686.8" cy="576.3" rx="4.83" ry="4.63" fill="#89ff76" transform="rotate(60.7 686.8 576.3)"/>
<circle cx="690.6" cy="583.2" r="4.61" fill="#54ffab"/>
<circle cx="694.4" cy="589.9" r="4.50" fill="#84ff7b"/>
<circle cx="698.1" cy="596.5" r="4.48" fill="#8eff71"/>
<circle cx="701.9" cy="603.2" r="4.55" fill="#84ff7b"/>
<circle cx="705.6" cy="610.0" r="4.72" fill="#7bff84"/>
<ellipse cx="709.6" cy="616.9" rx="5.00" ry="4.70" fill="#71ff8e" transform="rotate(60.7 709.6 616.9)"/>
<ellipse cx="713.6" cy="624.2" rx="5.42" ry="4.87" fill="#67ff98" transform="rotate(60.7 713.6 624.2)"/>
<ellipse cx="717.9" cy="631.8" rx="6.01" ry="5.10" fill="#67ff98" transform="rotate(60.7 717.9 631.8)"/>
<ellipse cx="722.5" cy="640.0" rx="6.83" ry="5.39" fill="#71ff8e" transform="rotate(60.7 722.5 640.0)"/>
<ellipse cx="668.5" cy="517.5" rx="7.84" ry="5.73" fill="#59ffa6" transform="rotate(62.2 668.5 517.5)"/>
<ellipse cx="673.5" cy="526.9" rx="6.74" ry="5.36" fill="#5effa2" transform="rotate(62.2 673.5 526.9)"/>
<ellipse cx="678.1" cy="535.6" rx="5.94" ry="5.07" fill="#62ff9d" transform="rotate(62.2 678.1 535.6)"/>
<ellipse cx="682.4" cy="543.8" rx="5.37" ry="4.85" fill="#67ff98" transform="rotate(62.2 682.4 543.8)"/>
<ellipse cx="686.4" cy="551.5" rx="4.97" ry="4.69" fill="#71ff8e" transform="rotate(62.2 686.4 551.5)"/>
<circle cx="690.3" cy="558.9" r="4.70" fill="#76ff89"/>
<circle cx="694.1" cy="566.2" r="4.54" fill="#84ff7b"/>
<circle cx="697.9" cy="573.3" r="4.48" fill="#84ff7b"/>
<circle cx="701.7" cy="580.4" r="4.51" fill="#4affb5"/>
<circle cx="705.4" cy="587.6" r="4.63" fill="#45ffba"/>
<ellipse cx="709.3" cy="594.9" rx="4.86" ry="4.64" fill="#54ffab" transform="rotate(62.2 709.3 594.9)"/>
<ellipse cx="713.3" cy="602.5" rx="5.22" ry="4.79" fill="#5effa2" transform="rotate(62.2 713.3 602.5)"/>
<ellipse cx="717.5" cy="610.5" rx="5.72" ry="4.99" fill="#62ff9d" transform="rotate(62.2 717.5 610.5)"/>
<ellipse cx="722.0" cy="619.0" rx="6.43" ry="5.25" fill="#67ff98" transform="rotate(62.2 722.0 619.0)"/>
<ellipse cx="677.5" cy="513.5" rx="8.47" ry="5.93" fill="#45ffba" transform="rotate(62.1 677.5 513.5)"/>
<ellipse cx="682.7" cy="523.3" rx="7.18" ry="5.51" fill="#4affb5" transform="rotate(62.1 682.7 523.3)"/>
<ellipse cx="687.5" cy="532.3" rx="6.27" ry="5.19" fill="#4fffb0" transform="rotate(62.1 687.5 532.3)"/>
<ellipse cx="691.9" cy="540.7" rx="5.60" ry="4.94" fill="#59ffa6" transform="rotate(62.1 691.9 540.7)"/>
<ellipse cx="696.1" cy="548.6" rx="5.13" ry="4.75" fill="#71ff8e" transform="rotate(62.1 696.1 548.6)"/>
<ellipse cx="700.0" cy="556.1" rx="4.81" ry="4.62" fill="#76ff89" transform="rotate(62.1 700.0 556.1)"/>
<circle cx="703.9" cy="563.4" r="4.60" fill="#7bff84"/>
<circle cx="707.7" cy="570.5" r="4.49" fill="#80ff80"/>
<circle cx="711.5" cy="577.6" r="4.48" fill="#76ff89"/>
<circle cx="715.2" cy="584.8" r="4.56" fill="#40ffbf"/>
<ellipse cx="719.1" cy="592.0" rx="4.75" ry="4.59" fill="#4affb5" transform="rotate(62.1 719.1 592.0)"/>
<ellipse cx="723.0" cy="599.5" rx="5.04" ry="4.72" fill="#59ffa6" transform="rotate(62.1 723.0 599.5)"/>
<ellipse cx="727.1" cy="607.3" rx="5.47" ry="4.89" fill="#5effa2" transform="rotate(62.1 727.1 607.3)"/>
<ellipse cx="731.5" cy="615.5" rx="6.09" ry="5.13" fill="#67ff98" transform="rotate(62.1 731.5 615.5)"/>
<ellipse cx="645.3" cy="526.0" rx="7.05" ry="5.47" fill="#80ff80" transform="rotate(75.3 645.3 526.0)"/>
<ellipse cx="648.0" cy="536.3" rx="6.17" ry="5.16" fill="#76ff89" transform="rotate(75.3 648.0 536.3)"/>
<ellipse cx="650.5" cy="545.9" rx="5.54" ry="4.92" fill="#5effa2" transform="rotate(75.3 650.5 545.9)"/>
<ellipse cx="652.9" cy="555.0" rx="5.08" ry="4.73" fill="#4fffb0" transform="rotate(75.3 652.9 555.0)"/>
<ellipse cx="655.2" cy="563.7" rx="4.77" ry="4.60" fill="#4fffb0" transform="rotate(75.3 655.2 563.7)"/>
<circle cx="657.4" cy="572.1" r="4.58" fill="#54ffab"/>
<circle cx="659.6" cy="580.4" r="4.49" fill="#71ff8e"/>
<circle cx="661.7" cy="588.6" r="4.49" fill="#71ff8e"/>
<circle cx="663.9" cy="596.9" r="4.58" fill="#73ff8c"/>
<ellipse cx="666.1" cy="605.3" rx="4.77" ry="4.60" fill="#57ffa8" transform="rotate(75.3 666.1 605.3)"/>
<ellipse cx="668.4" cy="614.0" rx="5.08" ry="4.73" fill="#60ff9f" transform="rotate(75.3 668.4 614.0)"/>
<ellipse cx="670.8" cy="623.1" rx="5.54" ry="4.92" fill="#57ffa8" transform="rotate(75.3 670.8 623.1)"/>
<ellipse cx="673.3" cy="632.7" rx="6.17" ry="5.16" fill="#44ffbb" transform="rotate(75.3 673.3 632.7)"/>
<ellipse cx="676.0" cy="643.0" rx="7.05" ry="5.47" fill="#45ffba" transform="rotate(75.3 676.0 643.0)"/>
<ellipse cx="636.4" cy="528.6" rx="7.05" ry="5.47" fill="#aaff55" transform="rotate(76.1 636.4 528.6)"/>
<ellipse cx="638.9" cy="538.9" rx="6.17" ry="5.16" fill="#84ff7b" transform="rotate(76.1 638.9 538.9)"/>
<ellipse cx="641.3" cy="548.5" rx="5.54" ry="4.92" fill="#76ff89" transform="rotate(76.1 641.3 548.5)"/>
<ellipse cx="643.6" cy="557.6" rx="5.08" ry="4.73" fill="#6cff93" transform="rotate(76.1 643.6 557.6)"/>
<ellipse cx="645.7" cy="566.3" rx="4.77" ry="4.60" fill="#94ff6b" transform="rotate(76.1 645.7 566.3)"/>
<circle cx="647.8" cy="574.7" r="4.58" fill="#a3ff5c"/>
<circle cx="649.9" cy="583.0" r="4.49" fill="#abff54"/>
<circle cx="651.9" cy="591.3" r="4.49" fill="#92ff6d"/>
<circle cx="654.0" cy="599.5" r="4.58" fill="#a0ff5f"/>
<ellipse cx="656.1" cy="608.0" rx="4.77" ry="4.60" fill="#7bff84" transform="rotate(76.1 656.1 608.0)"/>
<ellipse cx="658.2" cy="616.7" rx="5.08" ry="4.73" fill="#84ff7b" transform="rotate(76.1 658.2 616.7)"/>
<ellipse cx="660.5" cy="625.7" rx="5.54" ry="4.92" fill="#7fff80" transform="rotate(76.1 660.5 625.7)"/>
<ellipse cx="662.9" cy="635.4" rx="6.17" ry="5.16" fill="#5effa1" transform="rotate(76.1 662.9 635.4)"/>
<ellipse cx="665.4" cy="645.7" rx="7.05" ry="5.47" fill="#5effa1" transform="rotate(76.1 665.4 645.7)"/>
<ellipse cx="627.4" cy="531.2" rx="7.05" ry="5.47" fill="#c5ff3a" transform="rotate(76.8 627.4 531.2)"/>
<ellipse cx="629.8" cy="541.5" rx="6.17" ry="5.16" fill="#c3ff3c" transform="rotate(76.8 629.8 541.5)"/>
<ellipse cx="632.1" cy="551.2" rx="5.54" ry="4.92" fill="#bcff43" transform="rotate(76.8 632.1 551.2)"/>
<ellipse cx="634.2" cy="560.2" rx="5.08" ry="4.73" fill="#c6ff39" transform="rotate(76.8 634.2 560.2)"/>
<ellipse cx="636.2" cy="568.9" rx="4.77" ry="4.60" fill="#c7ff38" transform="rotate(76.8 636.2 568.9)"/>
<circle cx="638.2" cy="577.4" r="4.58" fill="#baff45"/>
<circle cx="640.2" cy="585.7" r="4.49" fill="#c0ff3f"/>
<circle cx="642.1" cy="593.9" r="4.49" fill="#a8ff57"/>
<circle cx="644.0" cy="602.2" r="4.58" fill="#c0ff3f"/>
<ellipse cx="646.0" cy="610.6" rx="4.77" ry="4.60" fill="#9eff61" transform="rotate(76.8 646.0 610.6)"/>
<ellipse cx="648.0" cy="619.3" rx="5.08" ry="4.73" fill="#a8ff57" transform="rotate(76.8 648.0 619.3)"/>
<ellipse cx="650.2" cy="628.4" rx="5.54" ry="4.92" fill="#a5ff5a" transform="rotate(76.8 650.2 628.4)"/>
<ellipse cx="652.4" cy="638.0" rx="6.17" ry="5.16" fill="#80ff7f" transform="rotate(76.8 652.4 638.0)"/>
<ellipse cx="654.8" cy="648.4" rx="7.05" ry="5.47" fill="#77ff88" transform="rotate(76.8 654.8 648.4)"/>
<ellipse cx="618.5" cy="533.8" rx="7.05" ry="5.47" fill="#cbff34" transform="rotate(77.6 618.5 533.8)"/>
<ellipse cx="620.7" cy="544.1" rx="6.17" ry="5.16" fill="#ceff31" transform="rotate(77.6 620.7 544.1)"/>
<ellipse cx="622.9" cy="553.8" rx="5.54" ry="4.92" fill="#c8ff37" transform="rotate(77.6 622.9 553.8)"/>
<ellipse cx="624.9" cy="562.9" rx="5.08" ry="4.73" fill="#c0ff3f" transform="rotate(77.6 624.9 562.9)"/>
<ellipse cx="626.8" cy="571.6" rx="4.77" ry="4.60" fill="#c2ff3d" transform="rotate(77.6 626.8 571.6)"/>
<circle cx="628.6" cy="580.0" r="4.58" fill="#dcff23"/>
<circle cx="630.5" cy="588.3" r="4.49" fill="#c9ff36"/>
<circle cx="632.3" cy="596.5" r="4.49" fill="#dfff20"/>
<circle cx="634.1" cy="604.8" r="4.58" fill="#c7ff38"/>
<ellipse cx="635.9" cy="613.3" rx="4.77" ry="4.60" fill="#b0ff4f" transform="rotate(77.6 635.9 613.3)"/>
<ellipse cx="637.9" cy="622.0" rx="5.08" ry="4.73" fill="#b8ff47" transform="rotate(77.6 637.9 622.0)"/>
<ellipse cx="639.9" cy="631.1" rx="5.54" ry="4.92" fill="#adff52" transform="rotate(77.6 639.9 631.1)"/>
<ellipse cx="642.0" cy="640.7" rx="6.17" ry="5.16" fill="#9bff64" transform="rotate(77.6 642.0 640.7)"/>
<ellipse cx="644.2" cy="651.1" rx="7.05" ry="5.47" fill="#b0ff4f" transform="rotate(77.6 644.2 651.1)"/>
<ellipse cx="609.5" cy="536.4" rx="7.05" ry="5.47" fill="#d8ff27" transform="rotate(78.4 609.5 536.4)"/>
<ellipse cx="611.7" cy="546.7" rx="6.17" ry="5.16" fill="#ebff14" transform="rotate(78.4 611.7 546.7)"/>
<ellipse cx="613.6" cy="556.4" rx="5.54" ry="4.92" fill="#f4ff0b" transform="rotate(78.4 613.6 556.4)"/>
<ellipse cx="615.5" cy="565.5" rx="5.08" ry="4.73" fill="#efff10" transform="rotate(78.4 615.5 565.5)"/>
<ellipse cx="617.3" cy="574.2" rx="4.77" ry="4.60" fill="#ebff14" transform="rotate(78.4 617.3 574.2)"/>
<circle cx="619.0" cy="582.7" r="4.58" fill="#d1ff2e"/>
<circle cx="620.7" cy="590.9" r="4.49" fill="#eeff11"/>
<circle cx="622.4" cy="599.2" r="4.49" fill="#e6ff19"/>
<circle cx="624.1" cy="607.5" r="4.58" fill="#edff12"/>
<ellipse cx="625.9" cy="615.9" rx="4.77" ry="4.60" fill="#bfff40" transform="rotate(78.4 625.9 615.9)"/>
<ellipse cx="627.7" cy="624.7" rx="5.08" ry="4.73" fill="#c2ff3d" transform="rotate(78.4 627.7 624.7)"/>
<ellipse cx="629.5" cy="633.8" rx="5.54" ry="4.92" fill="#c3ff3c" transform="rotate(78.4 629.5 633.8)"/>
<ellipse cx="631.5" cy="643.4" rx="6.17" ry="5.16" fill="#c0ff3f" transform="rotate(78.4 631.5 643.4)"/>
<ellipse cx="633.7" cy="653.7" rx="7.05" ry="5.47" fill="#b1ff4e" transform="rotate(78.4 633.7 653.7)"/>
<ellipse cx="600.6" cy="539.0" rx="7.05" ry="5.47" fill="#f4ff0b" transform="rotate(79.2 600.6 539.0)"/>
<ellipse cx="602.6" cy="549.4" rx="6.17" ry="5.16" fill="#e9ff16" transform="rotate(79.2 602.6 549.4)"/>
<ellipse cx="604.4" cy="559.0" rx="5.54" ry="4.92" fill="#feff01" transform="rotate(79.2 604.4 559.0)"/>
<ellipse cx="606.2" cy="568.1" rx="5.08" ry="4.73" fill="#eaff15" transform="rotate(79.2 606.2 568.1)"/>
<ellipse cx="607.8" cy="576.8" rx="4.77" ry="4.60" fill="#ffe300" transform="rotate(79.2 607.8 576.8)"/>
<circle cx="609.4" cy="585.3" r="4.58" fill="#f6ff09"/>
<circle cx="611.0" cy="593.6" r="4.49" fill="#e8ff17"/>
<circle cx="612.6" cy="601.8" r="4.49" fill="#d8ff27"/>
<circle cx="614.2" cy="610.1" r="4.58" fill="#d7ff28"/>
<ellipse cx="615.8" cy="618.6" rx="4.77" ry="4.60" fill="#d0ff2f" transform="rotate(79.2 615.8 618.6)"/>
<ellipse cx="617.5" cy="627.3" rx="5.08" ry="4.73" fill="#ceff31" transform="rotate(79.2 617.5 627.3)"/>
<ellipse cx="619.2" cy="636.4" rx="5.54" ry="4.92" fill="#c9ff36" transform="rotate(79.2 619.2 636.4)"/>
<ellipse cx="621.1" cy="646.1" rx="6.17" ry="5.16" fill="#abff54" transform="rotate(79.2 621.1 646.1)"/>
<ellipse cx="623.1" cy="656.4" rx="7.05" ry="5.47" fill="#b2ff4d" transform="rotate(79.2 623.1 656.4)"/>
<ellipse cx="591.6" cy="541.6" rx="7.05" ry="5.47" fill="#ceff31" transform="rotate(79.9 591.6 541.6)"/>
<ellipse cx="593.5" cy="552.0" rx="6.17" ry="5.16" fill="#e5ff1a" transform="rotate(79.9 593.5 552.0)"/>
<ellipse cx="595.2" cy="561.6" rx="5.54" ry="4.92" fill="#eaff15" transform="rotate(79.9 595.2 561.6)"/>
<ellipse cx="596.8" cy="570.7" rx="5.08" ry="4.73" fill="#efff10" transform="rotate(79.9 596.8 570.7)"/>
<ellipse cx="598.4" cy="579.5" rx="4.77" ry="4.60" fill="#f4ff0b" transform="rotate(79.9 598.4 579.5)"/>
<circle cx="599.9" cy="587.9" r="4.58" fill="#d7ff28"/>
<circle cx="601.3" cy="596.2" r="4.49" fill="#d5ff2a"/>
<circle cx="602.8" cy="604.5" r="4.49" fill="#eeff11"/>
<circle cx="604.3" cy="612.8" r="4.58" fill="#84ff7b"/>
<ellipse cx="605.8" cy="621.3" rx="4.77" ry="4.60" fill="#c9ff36" transform="rotate(79.9 605.8 621.3)"/>
<ellipse cx="607.3" cy="630.0" rx="5.08" ry="4.73" fill="#baff45" transform="rotate(79.9 607.3 630.0)"/>
<ellipse cx="608.9" cy="639.1" rx="5.54" ry="4.92" fill="#c7ff38" transform="rotate(79.9 608.9 639.1)"/>
<ellipse cx="610.6" cy="648.8" rx="6.17" ry="5.16" fill="#beff41" transform="rotate(79.9 610.6 648.8)"/>
<ellipse cx="612.5" cy="659.1" rx="7.05" ry="5.47" fill="#a1ff5e" transform="rotate(79.9 612.5 659.1)"/>
<ellipse cx="582.7" cy="544.2" rx="7.05" ry="5.47" fill="#c1ff3e" transform="rotate(80.7 582.7 544.2)"/>
<ellipse cx="584.4" cy="554.6" rx="6.17" ry="5.16" fill="#e1ff1e" transform="rotate(80.7 584.4 554.6)"/>
<ellipse cx="586.0" cy="564.2" rx="5.54" ry="4.92" fill="#d6ff29" transform="rotate(80.7 586.0 564.2)"/>
<ellipse cx="587.5" cy="573.4" rx="5.08" ry="4.73" fill="#d7ff28" transform="rotate(80.7 587.5 573.4)"/>
<ellipse cx="588.9" cy="582.1" rx="4.77" ry="4.60" fill="#d6ff29" transform="rotate(80.7 588.9 582.1)"/>
<circle cx="590.3" cy="590.6" r="4.58" fill="#c9ff36"/>
<circle cx="591.6" cy="598.9" r="4.49" fill="#d1ff2e"/>
<circle cx="593.0" cy="607.1" r="4.49" fill="#8eff71"/>
<circle cx="594.3" cy="615.4" r="4.58" fill="#7bff84"/>
<ellipse cx="595.7" cy="623.9" rx="4.77" ry="4.60" fill="#abff54" transform="rotate(80.7 595.7 623.9)"/>
<ellipse cx="597.1" cy="632.6" rx="5.08" ry="4.73" fill="#c6ff39" transform="rotate(80.7 597.1 632.6)"/>
<ellipse cx="598.6" cy="641.8" rx="5.54" ry="4.92" fill="#adff52" transform="rotate(80.7 598.6 641.8)"/>
<ellipse cx="600.2" cy="651.4" rx="6.17" ry="5.16" fill="#b0ff4f" transform="rotate(80.7 600.2 651.4)"/>
<ellipse cx="601.9" cy="661.8" rx="7.05" ry="5.47" fill="#afff50" transform="rotate(80.7 601.9 661.8)"/>
<ellipse cx="573.3" cy="538.3" rx="7.05" ry="5.47" fill="#d2ff2d" transform="rotate(81.6 573.3 538.3)"/>
<ellipse cx="574.9" cy="548.8" rx="6.17" ry="5.16" fill="#cdff32" transform="rotate(81.6 574.9 548.8)"/>
<ellipse cx="576.3" cy="558.6" rx="5.54" ry="4.92" fill="#beff41" transform="rotate(81.6 576.3 558.6)"/>
<ellipse cx="577.7" cy="567.8" rx="5.08" ry="4.73" fill="#c6ff39" transform="rotate(81.6 577.7 567.8)"/>
<ellipse cx="579.0" cy="576.7" rx="4.77" ry="4.60" fill="#caff35" transform="rotate(81.6 579.0 576.7)"/>
<circle cx="580.3" cy="585.3" r="4.58" fill="#c4ff3b"/>
<circle cx="581.5" cy="593.7" r="4.49" fill="#b6ff49"/>
<circle cx="582.8" cy="602.1" r="4.49" fill="#9eff61"/>
<circle cx="584.0" cy="610.5" r="4.58" fill="#a1ff5e"/>
<ellipse cx="585.3" cy="619.1" rx="4.77" ry="4.60" fill="#a6ff59" transform="rotate(81.6 585.3 619.1)"/>
<ellipse cx="586.6" cy="628.0" rx="5.08" ry="4.73" fill="#c9ff36" transform="rotate(81.6 586.6 628.0)"/>
<ellipse cx="588.0" cy="637.2" rx="5.54" ry="4.92" fill="#a3ff5c" transform="rotate(81.6 588.0 637.2)"/>
<ellipse cx="589.4" cy="647.0" rx="6.17" ry="5.16" fill="#aeff51" transform="rotate(81.6 589.4 647.0)"/>
<ellipse cx="591.0" cy="657.5" rx="7.05" ry="5.47" fill="#96ff69" transform="rotate(81.6 591.0 657.5)"/>
<ellipse cx="564.2" cy="539.8" rx="7.05" ry="5.47" fill="#d7ff28" transform="rotate(81.5 564.2 539.8)"/>
<ellipse cx="565.7" cy="550.4" rx="6.17" ry="5.16" fill="#d2ff2d" transform="rotate(81.5 565.7 550.4)"/>
<ellipse cx="567.2" cy="560.1" rx="5.54" ry="4.92" fill="#b5ff4a" transform="rotate(81.5 567.2 560.1)"/>
<ellipse cx="568.6" cy="569.4" rx="5.08" ry="4.73" fill="#b6ff49" transform="rotate(81.5 568.6 569.4)"/>
<ellipse cx="569.9" cy="578.2" rx="4.77" ry="4.60" fill="#bcff43" transform="rotate(81.5 569.9 578.2)"/>
<circle cx="571.2" cy="586.8" r="4.58" fill="#a2ff5d"/>
<circle cx="572.4" cy="595.2" r="4.49" fill="#b0ff4f"/>
<circle cx="573.7" cy="603.6" r="4.49" fill="#9cff63"/>
<circle cx="574.9" cy="612.0" r="4.58" fill="#62ff9d"/>
<ellipse cx="576.2" cy="620.6" rx="4.77" ry="4.60" fill="#37ffc8" transform="rotate(81.5 576.2 620.6)"/>
<ellipse cx="577.5" cy="629.4" rx="5.08" ry="4.73" fill="#bfff40" transform="rotate(81.5 577.5 629.4)"/>
<ellipse cx="578.9" cy="638.7" rx="5.54" ry="4.92" fill="#95ff6a" transform="rotate(81.5 578.9 638.7)"/>
<ellipse cx="580.4" cy="648.5" rx="6.17" ry="5.16" fill="#acff53" transform="rotate(81.5 580.4 648.5)"/>
<ellipse cx="581.9" cy="659.0" rx="7.05" ry="5.47" fill="#b6ff49" transform="rotate(81.5 581.9 659.0)"/>
<ellipse cx="555.1" cy="541.4" rx="7.05" ry="5.47" fill="#b3ff4c" transform="rotate(81.5 555.1 541.4)"/>
<ellipse cx="556.6" cy="551.9" rx="6.17" ry="5.16" fill="#b3ff4c" transform="rotate(81.5 556.6 551.9)"/>
<ellipse cx="558.1" cy="561.7" rx="5.54" ry="4.92" fill="#a0ff5f" transform="rotate(81.5 558.1 561.7)"/>
<ellipse cx="559.5" cy="570.9" rx="5.08" ry="4.73" fill="#97ff68" transform="rotate(81.5 559.5 570.9)"/>
<ellipse cx="560.8" cy="579.8" rx="4.77" ry="4.60" fill="#9cff63" transform="rotate(81.5 560.8 579.8)"/>
<circle cx="562.1" cy="588.3" r="4.58" fill="#a5ff5a"/>
<circle cx="563.3" cy="596.7" r="4.49" fill="#8cff73"/>
<circle cx="564.6" cy="605.1" r="4.49" fill="#71ff8e"/>
<circle cx="565.9" cy="613.5" r="4.58" fill="#5effa2"/>
<ellipse cx="567.1" cy="622.1" rx="4.77" ry="4.60" fill="#a2ff5d" transform="rotate(81.5 567.1 622.1)"/>
<ellipse cx="568.5" cy="630.9" rx="5.08" ry="4.73" fill="#b1ff4e" transform="rotate(81.5 568.5 630.9)"/>
<ellipse cx="569.8" cy="640.2" rx="5.54" ry="4.92" fill="#a0ff5f" transform="rotate(81.5 569.8 640.2)"/>
<ellipse cx="571.3" cy="650.0" rx="6.17" ry="5.16" fill="#97ff68" transform="rotate(81.5 571.3 650.0)"/>
<ellipse cx="572.9" cy="660.5" rx="7.05" ry="5.47" fill="#83ff7c" transform="rotate(81.5 572.9 660.5)"/>
<ellipse cx="545.9" cy="542.9" rx="7.05" ry="5.47" fill="#9dff62" transform="rotate(81.5 545.9 542.9)"/>
<ellipse cx="547.5" cy="553.4" rx="6.17" ry="5.16" fill="#beff41" transform="rotate(81.5 547.5 553.4)"/>
<ellipse cx="549.0" cy="563.2" rx="5.54" ry="4.92" fill="#c1ff3e" transform="rotate(81.5 549.0 563.2)"/>
<ellipse cx="550.4" cy="572.4" rx="5.08" ry="4.73" fill="#b6ff49" transform="rotate(81.5 550.4 572.4)"/>
<ellipse cx="551.7" cy="581.3" rx="4.77" ry="4.60" fill="#baff45" transform="rotate(81.5 551.7 581.3)"/>
<circle cx="553.0" cy="589.8" r="4.58" fill="#bdff42"/>
<circle cx="554.3" cy="598.3" r="4.49" fill="#92ff6d"/>
<circle cx="555.5" cy="606.6" r="4.49" fill="#6cff93"/>
<circle cx="556.8" cy="615.0" r="4.58" fill="#7bff84"/>
<ellipse cx="558.1" cy="623.6" rx="4.77" ry="4.60" fill="#b0ff4f" transform="rotate(81.5 558.1 623.6)"/>
<ellipse cx="559.4" cy="632.4" rx="5.08" ry="4.73" fill="#bdff42" transform="rotate(81.5 559.4 632.4)"/>
<ellipse cx="560.8" cy="641.7" rx="5.54" ry="4.92" fill="#abff54" transform="rotate(81.5 560.8 641.7)"/>
<ellipse cx="562.2" cy="651.4" rx="6.17" ry="5.16" fill="#a0ff5f" transform="rotate(81.5 562.2 651.4)"/>
<ellipse cx="563.8" cy="661.9" rx="7.05" ry="5.47" fill="#adff52" transform="rotate(81.5 563.8 661.9)"/>
<ellipse cx="536.8" cy="544.5" rx="7.05" ry="5.47" fill="#adff52" transform="rotate(81.4 536.8 544.5)"/>
<ellipse cx="538.4" cy="555.0" rx="6.17" ry="5.16" fill="#aaff55" transform="rotate(81.4 538.4 555.0)"/>
<ellipse cx="539.9" cy="564.7" rx="5.54" ry="4.92" fill="#b9ff46" transform="rotate(81.4 539.9 564.7)"/>
<ellipse cx="541.3" cy="574.0" rx="5.08" ry="4.73" fill="#b6ff49" transform="rotate(81.4 541.3 574.0)"/>
<ellipse cx="542.6" cy="582.8" rx="4.77" ry="4.60" fill="#c0ff3f" transform="rotate(81.4 542.6 582.8)"/>
<circle cx="543.9" cy="591.4" r="4.58" fill="#bcff43"/>
<circle cx="545.2" cy="599.8" r="4.49" fill="#b0ff4f"/>
<circle cx="546.4" cy="608.1" r="4.49" fill="#76ff89"/>
<circle cx="547.7" cy="616.5" r="4.58" fill="#a2ff5d"/>
<ellipse cx="549.0" cy="625.1" rx="4.77" ry="4.60" fill="#9fff60" transform="rotate(81.4 549.0 625.1)"/>
<ellipse cx="550.3" cy="633.9" rx="5.08" ry="4.73" fill="#caff35" transform="rotate(81.4 550.3 633.9)"/>
<ellipse cx="551.7" cy="643.2" rx="5.54" ry="4.92" fill="#93ff6c" transform="rotate(81.4 551.7 643.2)"/>
<ellipse cx="553.2" cy="652.9" rx="6.17" ry="5.16" fill="#abff54" transform="rotate(81.4 553.2 652.9)"/>
<ellipse cx="554.8" cy="663.4" rx="7.05" ry="5.47" fill="#a8ff57" transform="rotate(81.4 554.8 663.4)"/>
<ellipse cx="527.7" cy="546.0" rx="7.05" ry="5.47" fill="#adff52" transform="rotate(81.4 527.7 546.0)"/>
<ellipse cx="529.3" cy="556.5" rx="6.17" ry="5.16" fill="#afff50" transform="rotate(81.4 529.3 556.5)"/>
<ellipse cx="530.8" cy="566.3" rx="5.54" ry="4.92" fill="#a0ff5f" transform="rotate(81.4 530.8 566.3)"/>
<ellipse cx="532.2" cy="575.5" rx="5.08" ry="4.73" fill="#b0ff4f" transform="rotate(81.4 532.2 575.5)"/>
<ellipse cx="533.5" cy="584.3" rx="4.77" ry="4.60" fill="#b4ff4b" transform="rotate(81.4 533.5 584.3)"/>
<circle cx="534.8" cy="592.9" r="4.58" fill="#b5ff4a"/>
<circle cx="536.1" cy="601.3" r="4.49" fill="#6cff93"/>
<circle cx="537.3" cy="609.6" r="4.49" fill="#71ff8e"/>
<circle cx="538.6" cy="618.0" r="4.58" fill="#91ff6e"/>
<ellipse cx="539.9" cy="626.6" rx="4.77" ry="4.60" fill="#9cff63" transform="rotate(81.4 539.9 626.6)"/>
<ellipse cx="541.2" cy="635.4" rx="5.08" ry="4.73" fill="#a3ff5c" transform="rotate(81.4 541.2 635.4)"/>
<ellipse cx="542.6" cy="644.6" rx="5.54" ry="4.92" fill="#9dff62" transform="rotate(81.4 542.6 644.6)"/>
<ellipse cx="544.1" cy="654.4" rx="6.17" ry="5.16" fill="#7bff84" transform="rotate(81.4 544.1 654.4)"/>
<ellipse cx="545.7" cy="664.9" rx="7.05" ry="5.47" fill="#8dff72" transform="rotate(81.4 545.7 664.9)"/>
<ellipse cx="518.6" cy="547.6" rx="7.05" ry="5.47" fill="#c0ff3f" transform="rotate(81.4 518.6 547.6)"/>
<ellipse cx="520.2" cy="558.1" rx="6.17" ry="5.16" fill="#b7ff48" transform="rotate(81.4 520.2 558.1)"/>
<ellipse cx="521.7" cy="567.8" rx="5.54" ry="4.92" fill="#a7ff58" transform="rotate(81.4 521.7 567.8)"/>
<ellipse cx="523.1" cy="577.0" rx="5.08" ry="4.73" fill="#a5ff5a" transform="rotate(81.4 523.1 577.0)"/>
<ellipse cx="524.4" cy="585.9" rx="4.77" ry="4.60" fill="#a7ff58" transform="rotate(81.4 524.4 585.9)"/>
<circle cx="525.7" cy="594.4" r="4.58" fill="#6cff93"/>
<circle cx="527.0" cy="602.8" r="4.49" fill="#62ff9d"/>
<circle cx="528.3" cy="611.1" r="4.49" fill="#9fff60"/>
<circle cx="529.5" cy="619.5" r="4.58" fill="#97ff68"/>
<ellipse cx="530.8" cy="628.1" rx="4.77" ry="4.60" fill="#b5ff4a" transform="rotate(81.4 530.8 628.1)"/>
<ellipse cx="532.2" cy="636.9" rx="5.08" ry="4.73" fill="#c4ff3b" transform="rotate(81.4 532.2 636.9)"/>
<ellipse cx="533.6" cy="646.1" rx="5.54" ry="4.92" fill="#9fff60" transform="rotate(81.4 533.6 646.1)"/>
<ellipse cx="535.1" cy="655.9" rx="6.17" ry="5.16" fill="#6cff93" transform="rotate(81.4 535.1 655.9)"/>
<ellipse cx="536.6" cy="666.4" rx="7.05" ry="5.47" fill="#b1ff4e" transform="rotate(81.4 536.6 666.4)"/>
<ellipse cx="509.5" cy="549.1" rx="7.05" ry="5.47" fill="#a4ff5b" transform="rotate(81.3 509.5 549.1)"/>
<ellipse cx="511.1" cy="559.6" rx="6.17" ry="5.16" fill="#b9ff46" transform="rotate(81.3 511.1 559.6)"/>
<ellipse cx="512.6" cy="569.4" rx="5.54" ry="4.92" fill="#b4ff4b" transform="rotate(81.3 512.6 569.4)"/>
<ellipse cx="514.0" cy="578.6" rx="5.08" ry="4.73" fill="#b1ff4e" transform="rotate(81.3 514.0 578.6)"/>
<ellipse cx="515.3" cy="587.4" rx="4.77" ry="4.60" fill="#a7ff58" transform="rotate(81.3 515.3 587.4)"/>
<circle cx="516.6" cy="595.9" r="4.58" fill="#67ff98"/>
<circle cx="517.9" cy="604.3" r="4.49" fill="#62ff9d"/>
<circle cx="519.2" cy="612.7" r="4.49" fill="#8dff72"/>
<circle cx="520.5" cy="621.0" r="4.58" fill="#8aff75"/>
<ellipse cx="521.8" cy="629.6" rx="4.77" ry="4.60" fill="#a7ff58" transform="rotate(81.3 521.8 629.6)"/>
<ellipse cx="523.1" cy="638.4" rx="5.08" ry="4.73" fill="#a1ff5e" transform="rotate(81.3 523.1 638.4)"/>
<ellipse cx="524.5" cy="647.6" rx="5.54" ry="4.92" fill="#71ff8e" transform="rotate(81.3 524.5 647.6)"/>
<ellipse cx="526.0" cy="657.4" rx="6.17" ry="5.16" fill="#71ff8e" transform="rotate(81.3 526.0 657.4)"/>
<ellipse cx="527.6" cy="667.8" rx="7.05" ry="5.47" fill="#a6ff59" transform="rotate(81.3 527.6 667.8)"/>
<ellipse cx="500.4" cy="550.7" rx="7.05" ry="5.47" fill="#baff45" transform="rotate(81.3 500.4 550.7)"/>
<ellipse cx="502.0" cy="561.2" rx="6.17" ry="5.16" fill="#b2ff4d" transform="rotate(81.3 502.0 561.2)"/>
<ellipse cx="503.5" cy="570.9" rx="5.54" ry="4.92" fill="#a3ff5c" transform="rotate(81.3 503.5 570.9)"/>
<ellipse cx="504.9" cy="580.1" rx="5.08" ry="4.73" fill="#afff50" transform="rotate(81.3 504.9 580.1)"/>
<ellipse cx="506.2" cy="588.9" rx="4.77" ry="4.60" fill="#abff54" transform="rotate(81.3 506.2 588.9)"/>
<circle cx="507.5" cy="597.4" r="4.58" fill="#76ff89"/>
<circle cx="508.8" cy="605.8" r="4.49" fill="#afff50"/>
<circle cx="510.1" cy="614.2" r="4.49" fill="#9fff60"/>
<circle cx="511.4" cy="622.6" r="4.58" fill="#a1ff5e"/>
<ellipse cx="512.7" cy="631.1" rx="4.77" ry="4.60" fill="#b0ff4f" transform="rotate(81.3 512.7 631.1)"/>
<ellipse cx="514.0" cy="639.9" rx="5.08" ry="4.73" fill="#acff53" transform="rotate(81.3 514.0 639.9)"/>
<ellipse cx="515.4" cy="649.1" rx="5.54" ry="4.92" fill="#76ff89" transform="rotate(81.3 515.4 649.1)"/>
<ellipse cx="516.9" cy="658.8" rx="6.17" ry="5.16" fill="#84ff7b" transform="rotate(81.3 516.9 658.8)"/>
<ellipse cx="518.5" cy="669.3" rx="7.05" ry="5.47" fill="#b1ff4e" transform="rotate(81.3 518.5 669.3)"/>
<ellipse cx="491.2" cy="552.2" rx="7.05" ry="5.47" fill="#feff01" transform="rotate(81.3 491.2 552.2)"/>
<ellipse cx="492.9" cy="562.7" rx="6.17" ry="5.16" fill="#f9ff06" transform="rotate(81.3 492.9 562.7)"/>
<ellipse cx="494.4" cy="572.4" rx="5.54" ry="4.92" fill="#e5ff1a" transform="rotate(81.3 494.4 572.4)"/>
<ellipse cx="495.8" cy="581.6" rx="5.08" ry="4.73" fill="#f4ff0b" transform="rotate(81.3 495.8 581.6)"/>
<ellipse cx="497.1" cy="590.4" rx="4.77" ry="4.60" fill="#d4ff2b" transform="rotate(81.3 497.1 590.4)"/>
<circle cx="498.4" cy="599.0" r="4.58" fill="#eaff15"/>
<circle cx="499.7" cy="607.3" r="4.49" fill="#d8ff27"/>
<circle cx="501.0" cy="615.7" r="4.49" fill="#c4ff3b"/>
<circle cx="502.3" cy="624.1" r="4.58" fill="#cdff32"/>
<ellipse cx="503.6" cy="632.6" rx="4.77" ry="4.60" fill="#e5ff1a" transform="rotate(81.3 503.6 632.6)"/>
<ellipse cx="505.0" cy="641.4" rx="5.08" ry="4.73" fill="#efff10" transform="rotate(81.3 505.0 641.4)"/>
<ellipse cx="506.4" cy="650.6" rx="5.54" ry="4.92" fill="#b4ff4b" transform="rotate(81.3 506.4 650.6)"/>
<ellipse cx="507.9" cy="660.3" rx="6.17" ry="5.16" fill="#beff41" transform="rotate(81.3 507.9 660.3)"/>
<ellipse cx="509.5" cy="670.8" rx="7.05" ry="5.47" fill="#b4ff4b" transform="rotate(81.3 509.5 670.8)"/>
<ellipse cx="482.1" cy="553.8" rx="7.05" ry="5.47" fill="#9dff62" transform="rotate(81.2 482.1 553.8)"/>
<ellipse cx="483.7" cy="564.2" rx="6.17" ry="5.16" fill="#76ff89" transform="rotate(81.2 483.7 564.2)"/>
<ellipse cx="485.2" cy="574.0" rx="5.54" ry="4.92" fill="#71ff8e" transform="rotate(81.2 485.2 574.0)"/>
<ellipse cx="486.7" cy="583.2" rx="5.08" ry="4.73" fill="#7bff84" transform="rotate(81.2 486.7 583.2)"/>
<ellipse cx="488.0" cy="592.0" rx="4.77" ry="4.60" fill="#94ff6b" transform="rotate(81.2 488.0 592.0)"/>
<circle cx="489.3" cy="600.5" r="4.58" fill="#bfff40"/>
<circle cx="490.6" cy="608.9" r="4.49" fill="#e5ff1a"/>
<circle cx="491.9" cy="617.2" r="4.49" fill="#91ff6e"/>
<circle cx="493.2" cy="625.6" r="4.58" fill="#9aff65"/>
<ellipse cx="494.5" cy="634.1" rx="4.77" ry="4.60" fill="#aaff55" transform="rotate(81.2 494.5 634.1)"/>
<ellipse cx="495.9" cy="642.9" rx="5.08" ry="4.73" fill="#9cff63" transform="rotate(81.2 495.9 642.9)"/>
<ellipse cx="497.3" cy="652.1" rx="5.54" ry="4.92" fill="#83ff7c" transform="rotate(81.2 497.3 652.1)"/>
<ellipse cx="498.8" cy="661.8" rx="6.17" ry="5.16" fill="#94ff6b" transform="rotate(81.2 498.8 661.8)"/>
<ellipse cx="500.4" cy="672.2" rx="7.05" ry="5.47" fill="#88ff77" transform="rotate(81.2 500.4 672.2)"/>
<ellipse cx="473.0" cy="555.4" rx="7.05" ry="5.47" fill="#84ff7b" transform="rotate(81.2 473.0 555.4)"/>
<ellipse cx="474.6" cy="565.8" rx="6.17" ry="5.16" fill="#c8ff37" transform="rotate(81.2 474.6 565.8)"/>
<ellipse cx="476.1" cy="575.5" rx="5.54" ry="4.92" fill="#bfff40" transform="rotate(81.2 476.1 575.5)"/>
<ellipse cx="477.6" cy="584.7" rx="5.08" ry="4.73" fill="#afff50" transform="rotate(81.2 477.6 584.7)"/>
<ellipse cx="478.9" cy="593.5" rx="4.77" ry="4.60" fill="#abff54" transform="rotate(81.2 478.9 593.5)"/>
<circle cx="480.2" cy="602.0" r="4.58" fill="#abff54"/>
<circle cx="481.5" cy="610.4" r="4.49" fill="#ffd900"/>
<circle cx="482.8" cy="618.7" r="4.49" fill="#b4ff4b"/>
<circle cx="484.1" cy="627.1" r="4.58" fill="#9aff65"/>
<ellipse cx="485.4" cy="635.6" rx="4.77" ry="4.60" fill="#98ff67" transform="rotate(81.2 485.4 635.6)"/>
<ellipse cx="486.8" cy="644.4" rx="5.08" ry="4.73" fill="#c2ff3d" transform="rotate(81.2 486.8 644.4)"/>
<ellipse cx="488.2" cy="653.6" rx="5.54" ry="4.92" fill="#a3ff5c" transform="rotate(81.2 488.2 653.6)"/>
<ellipse cx="489.7" cy="663.3" rx="6.17" ry="5.16" fill="#94ff6b" transform="rotate(81.2 489.7 663.3)"/>
<ellipse cx="491.4" cy="673.7" rx="7.05" ry="5.47" fill="#b9ff46" transform="rotate(81.2 491.4 673.7)"/>
<ellipse cx="463.9" cy="556.9" rx="7.05" ry="5.47" fill="#baff45" transform="rotate(81.2 463.9 556.9)"/>
<ellipse cx="465.5" cy="567.3" rx="6.17" ry="5.16" fill="#b7ff48" transform="rotate(81.2 465.5 567.3)"/>
<ellipse cx="467.0" cy="577.0" rx="5.54" ry="4.92" fill="#c4ff3b" transform="rotate(81.2 467.0 577.0)"/>
<ellipse cx="468.5" cy="586.2" rx="5.08" ry="4.73" fill="#71ff8e" transform="rotate(81.2 468.5 586.2)"/>
<ellipse cx="469.8" cy="595.0" rx="4.77" ry="4.60" fill="#acff53" transform="rotate(81.2 469.8 595.0)"/>
<circle cx="471.2" cy="603.5" r="4.58" fill="#d3ff2c"/>
<circle cx="472.5" cy="611.9" r="4.49" fill="#8eff71"/>
<circle cx="473.7" cy="620.2" r="4.49" fill="#f4ff0b"/>
<circle cx="475.0" cy="628.6" r="4.58" fill="#9fff60"/>
<ellipse cx="476.4" cy="637.1" rx="4.77" ry="4.60" fill="#a6ff59" transform="rotate(81.2 476.4 637.1)"/>
<ellipse cx="477.7" cy="645.9" rx="5.08" ry="4.73" fill="#abff54" transform="rotate(81.2 477.7 645.9)"/>
<ellipse cx="479.2" cy="655.1" rx="5.54" ry="4.92" fill="#b7ff48" transform="rotate(81.2 479.2 655.1)"/>
<ellipse cx="480.7" cy="664.8" rx="6.17" ry="5.16" fill="#a1ff5e" transform="rotate(81.2 480.7 664.8)"/>
<ellipse cx="482.3" cy="675.2" rx="7.05" ry="5.47" fill="#9bff64" transform="rotate(81.2 482.3 675.2)"/>
<ellipse cx="452.3" cy="546.3" rx="9.83" ry="6.33" fill="#baff45" transform="rotate(81.0 452.3 546.3)"/>
<ellipse cx="454.7" cy="561.3" rx="7.84" ry="5.73" fill="#bfff40" transform="rotate(81.0 454.7 561.3)"/>
<ellipse cx="456.6" cy="573.4" rx="6.63" ry="5.32" fill="#abff54" transform="rotate(81.0 456.6 573.4)"/>
<ellipse cx="458.3" cy="583.9" rx="5.83" ry="5.03" fill="#a6ff59" transform="rotate(81.0 458.3 583.9)"/>
<ellipse cx="459.8" cy="593.3" rx="5.29" ry="4.82" fill="#c3ff3c" transform="rotate(81.0 459.8 593.3)"/>
<ellipse cx="461.1" cy="602.0" rx="4.92" ry="4.66" fill="#b0ff4f" transform="rotate(81.0 461.1 602.0)"/>
<circle cx="462.5" cy="610.6" r="4.66" fill="#89ff76"/>
<circle cx="463.8" cy="619.0" r="4.52" fill="#59ffa6"/>
<circle cx="465.2" cy="627.5" r="4.48" fill="#abff54"/>
<circle cx="466.5" cy="635.9" r="4.53" fill="#a2ff5e"/>
<circle cx="467.9" cy="644.7" r="4.69" fill="#98ff67"/>
<ellipse cx="469.4" cy="654.3" rx="5.00" ry="4.70" fill="#f9ff06" transform="rotate(81.0 469.4 654.3)"/>
<ellipse cx="471.1" cy="665.0" rx="5.51" ry="4.90" fill="#a6ff59" transform="rotate(81.0 471.1 665.0)"/>
<ellipse cx="473.1" cy="677.3" rx="6.34" ry="5.22" fill="#a6ff59" transform="rotate(81.0 473.1 677.3)"/>
<ellipse cx="441.2" cy="560.3" rx="7.05" ry="5.47" fill="#b8ff47" transform="rotate(82.1 441.2 560.3)"/>
<ellipse cx="442.7" cy="570.8" rx="6.17" ry="5.16" fill="#bcff43" transform="rotate(82.1 442.7 570.8)"/>
<ellipse cx="444.1" cy="580.6" rx="5.54" ry="4.92" fill="#d2ff2d" transform="rotate(82.1 444.1 580.6)"/>
<ellipse cx="445.4" cy="589.9" rx="5.08" ry="4.73" fill="#cbff34" transform="rotate(82.1 445.4 589.9)"/>
<ellipse cx="446.6" cy="598.7" rx="4.77" ry="4.60" fill="#aeff51" transform="rotate(82.1 446.6 598.7)"/>
<circle cx="447.8" cy="607.3" r="4.58" fill="#f9ff06"/>
<circle cx="449.0" cy="615.8" r="4.49" fill="#feff01"/>
<circle cx="450.2" cy="624.1" r="4.49" fill="#b6ff49"/>
<circle cx="451.3" cy="632.6" r="4.58" fill="#40ffbf"/>
<ellipse cx="452.5" cy="641.2" rx="4.77" ry="4.60" fill="#3cffc3" transform="rotate(82.1 452.5 641.2)"/>
<ellipse cx="453.8" cy="650.0" rx="5.08" ry="4.73" fill="#62ff9d" transform="rotate(82.1 453.8 650.0)"/>
<ellipse cx="455.1" cy="659.3" rx="5.54" ry="4.92" fill="#a8ff57" transform="rotate(82.1 455.1 659.3)"/>
<ellipse cx="456.4" cy="669.1" rx="6.17" ry="5.16" fill="#bfff40" transform="rotate(82.1 456.4 669.1)"/>
<ellipse cx="457.9" cy="679.6" rx="7.05" ry="5.47" fill="#baff45" transform="rotate(82.1 457.9 679.6)"/>
<ellipse cx="432.0" cy="561.8" rx="7.05" ry="5.47" fill="#aaff55" transform="rotate(82.0 432.0 561.8)"/>
<ellipse cx="433.4" cy="572.4" rx="6.17" ry="5.16" fill="#b2ff4d" transform="rotate(82.0 433.4 572.4)"/>
<ellipse cx="434.8" cy="582.1" rx="5.54" ry="4.92" fill="#aaff55" transform="rotate(82.0 434.8 582.1)"/>
<ellipse cx="436.1" cy="591.4" rx="5.08" ry="4.73" fill="#c4ff3b" transform="rotate(82.0 436.1 591.4)"/>
<ellipse cx="437.4" cy="600.2" rx="4.77" ry="4.60" fill="#ffcb00" transform="rotate(82.0 437.4 600.2)"/>
<circle cx="438.6" cy="608.8" r="4.58" fill="#ceff31"/>
<circle cx="439.7" cy="617.3" r="4.49" fill="#aeff51"/>
<circle cx="440.9" cy="625.6" r="4.49" fill="#67ff98"/>
<circle cx="442.1" cy="634.1" r="4.58" fill="#c4ff3b"/>
<ellipse cx="443.3" cy="642.6" rx="4.77" ry="4.60" fill="#adff52" transform="rotate(82.0 443.3 642.6)"/>
<ellipse cx="444.6" cy="651.5" rx="5.08" ry="4.73" fill="#cdff32" transform="rotate(82.0 444.6 651.5)"/>
<ellipse cx="445.9" cy="660.7" rx="5.54" ry="4.92" fill="#d1ff2e" transform="rotate(82.0 445.9 660.7)"/>
<ellipse cx="447.2" cy="670.5" rx="6.17" ry="5.16" fill="#b1ff4e" transform="rotate(82.0 447.2 670.5)"/>
<ellipse cx="448.7" cy="681.0" rx="7.05" ry="5.47" fill="#d0ff2f" transform="rotate(82.0 448.7 681.0)"/>
<ellipse cx="422.7" cy="563.4" rx="7.05" ry="5.47" fill="#b6ff49" transform="rotate(82.0 422.7 563.4)"/>
<ellipse cx="424.2" cy="573.9" rx="6.17" ry="5.16" fill="#b9ff46" transform="rotate(82.0 424.2 573.9)"/>
<ellipse cx="425.5" cy="583.7" rx="5.54" ry="4.92" fill="#b7ff48" transform="rotate(82.0 425.5 583.7)"/>
<ellipse cx="426.8" cy="592.9" rx="5.08" ry="4.73" fill="#cbff34" transform="rotate(82.0 426.8 592.9)"/>
<ellipse cx="428.1" cy="601.8" rx="4.77" ry="4.60" fill="#c0ff3f" transform="rotate(82.0 428.1 601.8)"/>
<circle cx="429.3" cy="610.3" r="4.58" fill="#c8ff37"/>
<circle cx="430.5" cy="618.8" r="4.49" fill="#d7ff28"/>
<circle cx="431.7" cy="627.1" r="4.49" fill="#aeff51"/>
<circle cx="432.9" cy="635.5" r="4.58" fill="#baff45"/>
<ellipse cx="434.1" cy="644.1" rx="4.77" ry="4.60" fill="#cbff34" transform="rotate(82.0 434.1 644.1)"/>
<ellipse cx="435.3" cy="653.0" rx="5.08" ry="4.73" fill="#c6ff39" transform="rotate(82.0 435.3 653.0)"/>
<ellipse cx="436.6" cy="662.2" rx="5.54" ry="4.92" fill="#a8ff57" transform="rotate(82.0 436.6 662.2)"/>
<ellipse cx="438.0" cy="672.0" rx="6.17" ry="5.16" fill="#a8ff57" transform="rotate(82.0 438.0 672.0)"/>
<ellipse cx="439.5" cy="682.5" rx="7.05" ry="5.47" fill="#b5ff4a" transform="rotate(82.0 439.5 682.5)"/>
<ellipse cx="413.4" cy="564.9" rx="7.05" ry="5.47" fill="#80ff80" transform="rotate(81.9 413.4 564.9)"/>
<ellipse cx="414.9" cy="575.4" rx="6.17" ry="5.16" fill="#acff53" transform="rotate(81.9 414.9 575.4)"/>
<ellipse cx="416.3" cy="585.2" rx="5.54" ry="4.92" fill="#9fff60" transform="rotate(81.9 416.3 585.2)"/>
<ellipse cx="417.6" cy="594.4" rx="5.08" ry="4.73" fill="#a0ff5f" transform="rotate(81.9 417.6 594.4)"/>
<ellipse cx="418.8" cy="603.3" rx="4.77" ry="4.60" fill="#b5ff4a" transform="rotate(81.9 418.8 603.3)"/>
<circle cx="420.1" cy="611.8" r="4.58" fill="#aaff55"/>
<circle cx="421.3" cy="620.3" r="4.49" fill="#acff53"/>
<circle cx="422.4" cy="628.6" r="4.49" fill="#b4ff4b"/>
<circle cx="423.6" cy="637.0" r="4.58" fill="#bbff44"/>
<ellipse cx="424.9" cy="645.6" rx="4.77" ry="4.60" fill="#a7ff58" transform="rotate(81.9 424.9 645.6)"/>
<ellipse cx="426.1" cy="654.4" rx="5.08" ry="4.73" fill="#aeff51" transform="rotate(81.9 426.1 654.4)"/>
<ellipse cx="427.4" cy="663.7" rx="5.54" ry="4.92" fill="#aaff55" transform="rotate(81.9 427.4 663.7)"/>
<ellipse cx="428.8" cy="673.4" rx="6.17" ry="5.16" fill="#aaff55" transform="rotate(81.9 428.8 673.4)"/>
<ellipse cx="430.3" cy="683.9" rx="7.05" ry="5.47" fill="#b2ff4d" transform="rotate(81.9 430.3 683.9)"/>
<ellipse cx="404.1" cy="566.5" rx="7.05" ry="5.47" fill="#4affb5" transform="rotate(81.8 404.1 566.5)"/>
<ellipse cx="405.6" cy="577.0" rx="6.17" ry="5.16" fill="#86ff79" transform="rotate(81.8 405.6 577.0)"/>
<ellipse cx="407.0" cy="586.7" rx="5.54" ry="4.92" fill="#98ff67" transform="rotate(81.8 407.0 586.7)"/>
<ellipse cx="408.3" cy="596.0" rx="5.08" ry="4.73" fill="#8dff72" transform="rotate(81.8 408.3 596.0)"/>
<ellipse cx="409.6" cy="604.8" rx="4.77" ry="4.60" fill="#85ff7a" transform="rotate(81.8 409.6 604.8)"/>
<circle cx="410.8" cy="613.3" r="4.58" fill="#a7ff58"/>
<circle cx="412.0" cy="621.8" r="4.49" fill="#8dff72"/>
<circle cx="413.2" cy="630.1" r="4.49" fill="#9aff65"/>
<circle cx="414.4" cy="638.5" r="4.58" fill="#a4ff5b"/>
<ellipse cx="415.6" cy="647.1" rx="4.77" ry="4.60" fill="#9dff62" transform="rotate(81.8 415.6 647.1)"/>
<ellipse cx="416.9" cy="655.9" rx="5.08" ry="4.73" fill="#93ff6c" transform="rotate(81.8 416.9 655.9)"/>
<ellipse cx="418.2" cy="665.1" rx="5.54" ry="4.92" fill="#9bff64" transform="rotate(81.8 418.2 665.1)"/>
<ellipse cx="419.6" cy="674.9" rx="6.17" ry="5.16" fill="#59ffa6" transform="rotate(81.8 419.6 674.9)"/>
<ellipse cx="421.1" cy="685.4" rx="7.05" ry="5.47" fill="#a7ff58" transform="rotate(81.8 421.1 685.4)"/>
<ellipse cx="394.8" cy="568.0" rx="7.05" ry="5.47" fill="#71ff8e" transform="rotate(81.8 394.8 568.0)"/>
<ellipse cx="396.3" cy="578.5" rx="6.17" ry="5.16" fill="#a8ff57" transform="rotate(81.8 396.3 578.5)"/>
<ellipse cx="397.7" cy="588.3" rx="5.54" ry="4.92" fill="#9aff65" transform="rotate(81.8 397.7 588.3)"/>
<ellipse cx="399.0" cy="597.5" rx="5.08" ry="4.73" fill="#a1ff5e" transform="rotate(81.8 399.0 597.5)"/>
<ellipse cx="400.3" cy="606.3" rx="4.77" ry="4.60" fill="#95ff6a" transform="rotate(81.8 400.3 606.3)"/>
<circle cx="401.6" cy="614.9" r="4.58" fill="#b6ff49"/>
<circle cx="402.8" cy="623.2" r="4.49" fill="#9eff61"/>
<circle cx="404.0" cy="631.6" r="4.49" fill="#a3ff5c"/>
<circle cx="405.2" cy="640.0" r="4.58" fill="#a8ff57"/>
<ellipse cx="406.4" cy="648.5" rx="4.77" ry="4.60" fill="#b6ff49" transform="rotate(81.8 406.4 648.5)"/>
<ellipse cx="407.7" cy="657.4" rx="5.08" ry="4.73" fill="#a1ff5e" transform="rotate(81.8 407.7 657.4)"/>
<ellipse cx="409.0" cy="666.6" rx="5.54" ry="4.92" fill="#b6ff49" transform="rotate(81.8 409.0 666.6)"/>
<ellipse cx="410.4" cy="676.3" rx="6.17" ry="5.16" fill="#59ffa6" transform="rotate(81.8 410.4 676.3)"/>
<ellipse cx="411.9" cy="686.8" rx="7.05" ry="5.47" fill="#71ff8e" transform="rotate(81.8 411.9 686.8)"/>
<ellipse cx="385.5" cy="569.6" rx="7.05" ry="5.47" fill="#a3ff5c" transform="rotate(81.7 385.5 569.6)"/>
<ellipse cx="387.0" cy="580.1" rx="6.17" ry="5.16" fill="#abff54" transform="rotate(81.7 387.0 580.1)"/>
<ellipse cx="388.4" cy="589.8" rx="5.54" ry="4.92" fill="#99ff66" transform="rotate(81.7 388.4 589.8)"/>
<ellipse cx="389.8" cy="599.0" rx="5.08" ry="4.73" fill="#95ff6a" transform="rotate(81.7 389.8 599.0)"/>
<ellipse cx="391.1" cy="607.8" rx="4.77" ry="4.60" fill="#bdff42" transform="rotate(81.7 391.1 607.8)"/>
<circle cx="392.3" cy="616.4" r="4.58" fill="#b0ff4f"/>
<circle cx="393.5" cy="624.7" r="4.49" fill="#aaff55"/>
<circle cx="394.7" cy="633.1" r="4.49" fill="#bcff43"/>
<circle cx="395.9" cy="641.5" r="4.58" fill="#a6ff59"/>
<ellipse cx="397.2" cy="650.0" rx="4.77" ry="4.60" fill="#b9ff46" transform="rotate(81.7 397.2 650.0)"/>
<ellipse cx="398.5" cy="658.8" rx="5.08" ry="4.73" fill="#b7ff48" transform="rotate(81.7 398.5 658.8)"/>
<ellipse cx="399.8" cy="668.0" rx="5.54" ry="4.92" fill="#9dff62" transform="rotate(81.7 399.8 668.0)"/>
<ellipse cx="401.2" cy="677.8" rx="6.17" ry="5.16" fill="#62ff9d" transform="rotate(81.7 401.2 677.8)"/>
<ellipse cx="402.7" cy="688.2" rx="7.05" ry="5.47" fill="#45ffba" transform="rotate(81.7 402.7 688.2)"/>
<ellipse cx="376.2" cy="571.1" rx="7.05" ry="5.47" fill="#bdff42" transform="rotate(81.7 376.2 571.1)"/>
<ellipse cx="377.8" cy="581.6" rx="6.17" ry="5.16" fill="#a5ff5a" transform="rotate(81.7 377.8 581.6)"/>
<ellipse cx="379.2" cy="591.3" rx="5.54" ry="4.92" fill="#7bff84" transform="rotate(81.7 379.2 591.3)"/>
<ellipse cx="380.5" cy="600.5" rx="5.08" ry="4.73" fill="#71ff8e" transform="rotate(81.7 380.5 600.5)"/>
<ellipse cx="381.8" cy="609.3" rx="4.77" ry="4.60" fill="#71ff8e" transform="rotate(81.7 381.8 609.3)"/>
<circle cx="383.0" cy="617.9" r="4.58" fill="#76ff89"/>
<circle cx="384.3" cy="626.2" r="4.49" fill="#99ff66"/>
<circle cx="385.5" cy="634.6" r="4.49" fill="#9aff65"/>
<circle cx="386.7" cy="643.0" r="4.58" fill="#bbff44"/>
<ellipse cx="388.0" cy="651.5" rx="4.77" ry="4.60" fill="#b6ff49" transform="rotate(81.7 388.0 651.5)"/>
<ellipse cx="389.2" cy="660.3" rx="5.08" ry="4.73" fill="#9aff65" transform="rotate(81.7 389.2 660.3)"/>
<ellipse cx="390.6" cy="669.5" rx="5.54" ry="4.92" fill="#b7ff48" transform="rotate(81.7 390.6 669.5)"/>
<ellipse cx="392.0" cy="679.2" rx="6.17" ry="5.16" fill="#beff41" transform="rotate(81.7 392.0 679.2)"/>
<ellipse cx="393.5" cy="689.7" rx="7.05" ry="5.47" fill="#62ff9d" transform="rotate(81.7 393.5 689.7)"/>
<ellipse cx="366.9" cy="572.7" rx="7.05" ry="5.47" fill="#b3ff4c" transform="rotate(81.6 366.9 572.7)"/>
<ellipse cx="368.5" cy="583.1" rx="6.17" ry="5.16" fill="#a4ff5b" transform="rotate(81.6 368.5 583.1)"/>
<ellipse cx="369.9" cy="592.9" rx="5.54" ry="4.92" fill="#76ff89" transform="rotate(81.6 369.9 592.9)"/>
<ellipse cx="371.3" cy="602.1" rx="5.08" ry="4.73" fill="#b1ff4e" transform="rotate(81.6 371.3 602.1)"/>
<ellipse cx="372.5" cy="610.8" rx="4.77" ry="4.60" fill="#93ff6c" transform="rotate(81.6 372.5 610.8)"/>
<circle cx="373.8" cy="619.4" r="4.58" fill="#abff54"/>
<circle cx="375.0" cy="627.7" r="4.49" fill="#b6ff49"/>
<circle cx="376.2" cy="636.1" r="4.49" fill="#b0ff4f"/>
<circle cx="377.5" cy="644.4" r="4.58" fill="#afff50"/>
<ellipse cx="378.7" cy="653.0" rx="4.77" ry="4.60" fill="#a3ff5c" transform="rotate(81.6 378.7 653.0)"/>
<ellipse cx="380.0" cy="661.8" rx="5.08" ry="4.73" fill="#97ff68" transform="rotate(81.6 380.0 661.8)"/>
<ellipse cx="381.4" cy="670.9" rx="5.54" ry="4.92" fill="#b1ff4e" transform="rotate(81.6 381.4 670.9)"/>
<ellipse cx="382.8" cy="680.7" rx="6.17" ry="5.16" fill="#54ffab" transform="rotate(81.6 382.8 680.7)"/>
<ellipse cx="384.3" cy="691.1" rx="7.05" ry="5.47" fill="#4fffb0" transform="rotate(81.6 384.3 691.1)"/>
<ellipse cx="357.7" cy="574.2" rx="7.05" ry="5.47" fill="#9aff65" transform="rotate(81.6 357.7 574.2)"/>
<ellipse cx="359.2" cy="584.7" rx="6.17" ry="5.16" fill="#adff52" transform="rotate(81.6 359.2 584.7)"/>
<ellipse cx="360.6" cy="594.4" rx="5.54" ry="4.92" fill="#b8ff47" transform="rotate(81.6 360.6 594.4)"/>
<ellipse cx="362.0" cy="603.6" rx="5.08" ry="4.73" fill="#a2ff5d" transform="rotate(81.6 362.0 603.6)"/>
<ellipse cx="363.3" cy="612.4" rx="4.77" ry="4.60" fill="#b7ff48" transform="rotate(81.6 363.3 612.4)"/>
<circle cx="364.5" cy="620.9" r="4.58" fill="#b9ff46"/>
<circle cx="365.8" cy="629.2" r="4.49" fill="#b8ff47"/>
<circle cx="367.0" cy="637.6" r="4.49" fill="#9fff60"/>
<circle cx="368.2" cy="645.9" r="4.58" fill="#98ff67"/>
<ellipse cx="369.5" cy="654.4" rx="4.77" ry="4.60" fill="#99ff66" transform="rotate(81.6 369.5 654.4)"/>
<ellipse cx="370.8" cy="663.2" rx="5.08" ry="4.73" fill="#97ff68" transform="rotate(81.6 370.8 663.2)"/>
<ellipse cx="372.2" cy="672.4" rx="5.54" ry="4.92" fill="#98ff67" transform="rotate(81.6 372.2 672.4)"/>
<ellipse cx="373.6" cy="682.1" rx="6.17" ry="5.16" fill="#54ffab" transform="rotate(81.6 373.6 682.1)"/>
<ellipse cx="375.1" cy="692.5" rx="7.05" ry="5.47" fill="#59ffa6" transform="rotate(81.6 375.1 692.5)"/>
<ellipse cx="348.4" cy="575.8" rx="7.05" ry="5.47" fill="#a2ff5d" transform="rotate(81.5 348.4 575.8)"/>
<ellipse cx="349.9" cy="586.2" rx="6.17" ry="5.16" fill="#9dff62" transform="rotate(81.5 349.9 586.2)"/>
<ellipse cx="351.4" cy="595.9" rx="5.54" ry="4.92" fill="#b7ff48" transform="rotate(81.5 351.4 595.9)"/>
<ellipse cx="352.7" cy="605.1" rx="5.08" ry="4.73" fill="#beff41" transform="rotate(81.5 352.7 605.1)"/>
<ellipse cx="354.0" cy="613.9" rx="4.77" ry="4.60" fill="#b8ff47" transform="rotate(81.5 354.0 613.9)"/>
<circle cx="355.3" cy="622.4" r="4.58" fill="#b6ff49"/>
<circle cx="356.5" cy="630.7" r="4.49" fill="#b7ff48"/>
<circle cx="357.8" cy="639.0" r="4.49" fill="#6cff93"/>
<circle cx="359.0" cy="647.4" r="4.58" fill="#9eff61"/>
<ellipse cx="360.3" cy="655.9" rx="4.77" ry="4.60" fill="#aaff55" transform="rotate(81.5 360.3 655.9)"/>
<ellipse cx="361.6" cy="664.7" rx="5.08" ry="4.73" fill="#a3ff5c" transform="rotate(81.5 361.6 664.7)"/>
<ellipse cx="363.0" cy="673.9" rx="5.54" ry="4.92" fill="#95ff6a" transform="rotate(81.5 363.0 673.9)"/>
<ellipse cx="364.4" cy="683.6" rx="6.17" ry="5.16" fill="#59ffa6" transform="rotate(81.5 364.4 683.6)"/>
<ellipse cx="365.9" cy="694.0" rx="7.05" ry="5.47" fill="#ffd900" transform="rotate(81.5 365.9 694.0)"/>
<ellipse cx="339.1" cy="577.3" rx="7.05" ry="5.47" fill="#afff50" transform="rotate(81.5 339.1 577.3)"/>
<ellipse cx="340.6" cy="587.8" rx="6.17" ry="5.16" fill="#9fff60" transform="rotate(81.5 340.6 587.8)"/>
<ellipse cx="342.1" cy="597.5" rx="5.54" ry="4.92" fill="#b0ff4f" transform="rotate(81.5 342.1 597.5)"/>
<ellipse cx="343.5" cy="606.6" rx="5.08" ry="4.73" fill="#9aff65" transform="rotate(81.5 343.5 606.6)"/>
<ellipse cx="344.8" cy="615.4" rx="4.77" ry="4.60" fill="#afff50" transform="rotate(81.5 344.8 615.4)"/>
<circle cx="346.0" cy="623.9" r="4.58" fill="#c3ff3c"/>
<circle cx="347.3" cy="632.2" r="4.49" fill="#beff41"/>
<circle cx="348.5" cy="640.5" r="4.49" fill="#b7ff48"/>
<circle cx="349.8" cy="648.9" r="4.58" fill="#a4ff5b"/>
<ellipse cx="351.1" cy="657.4" rx="4.77" ry="4.60" fill="#a8ff57" transform="rotate(81.5 351.1 657.4)"/>
<ellipse cx="352.4" cy="666.2" rx="5.08" ry="4.73" fill="#a0ff5f" transform="rotate(81.5 352.4 666.2)"/>
<ellipse cx="353.7" cy="675.3" rx="5.54" ry="4.92" fill="#baff45" transform="rotate(81.5 353.7 675.3)"/>
<ellipse cx="355.2" cy="685.0" rx="6.17" ry="5.16" fill="#67ff98" transform="rotate(81.5 355.2 685.0)"/>
<ellipse cx="356.8" cy="695.4" rx="7.05" ry="5.47" fill="#ffa900" transform="rotate(81.5 356.8 695.4)"/>
<ellipse cx="329.8" cy="578.9" rx="7.05" ry="5.47" fill="#c3ff3c" transform="rotate(81.4 329.8 578.9)"/>
<ellipse cx="331.4" cy="589.3" rx="6.17" ry="5.16" fill="#a3ff5c" transform="rotate(81.4 331.4 589.3)"/>
<ellipse cx="332.8" cy="599.0" rx="5.54" ry="4.92" fill="#c2ff3d" transform="rotate(81.4 332.8 599.0)"/>
<ellipse cx="334.2" cy="608.1" rx="5.08" ry="4.73" fill="#c8ff37" transform="rotate(81.4 334.2 608.1)"/>
<ellipse cx="335.5" cy="616.9" rx="4.77" ry="4.60" fill="#b2ff4d" transform="rotate(81.4 335.5 616.9)"/>
<circle cx="336.8" cy="625.4" r="4.58" fill="#b2ff4d"/>
<circle cx="338.0" cy="633.7" r="4.49" fill="#a1ff5e"/>
<circle cx="339.3" cy="642.0" r="4.49" fill="#a2ff5d"/>
<circle cx="340.6" cy="650.4" r="4.58" fill="#acff53"/>
<ellipse cx="341.8" cy="658.9" rx="4.77" ry="4.60" fill="#a9ff56" transform="rotate(81.4 341.8 658.9)"/>
<ellipse cx="343.2" cy="667.6" rx="5.08" ry="4.73" fill="#c1ff3e" transform="rotate(81.4 343.2 667.6)"/>
<ellipse cx="344.5" cy="676.8" rx="5.54" ry="4.92" fill="#a5ff5a" transform="rotate(81.4 344.5 676.8)"/>
<ellipse cx="346.0" cy="686.5" rx="6.17" ry="5.16" fill="#9fff60" transform="rotate(81.4 346.0 686.5)"/>
<ellipse cx="347.6" cy="696.9" rx="7.05" ry="5.47" fill="#dcff23" transform="rotate(81.4 347.6 696.9)"/>
<ellipse cx="320.5" cy="580.4" rx="7.05" ry="5.47" fill="#fff200" transform="rotate(81.4 320.5 580.4)"/>
<ellipse cx="322.1" cy="590.8" rx="6.17" ry="5.16" fill="#bdff42" transform="rotate(81.4 322.1 590.8)"/>
<ellipse cx="323.5" cy="600.5" rx="5.54" ry="4.92" fill="#c4ff3b" transform="rotate(81.4 323.5 600.5)"/>
<ellipse cx="324.9" cy="609.7" rx="5.08" ry="4.73" fill="#b8ff47" transform="rotate(81.4 324.9 609.7)"/>
<ellipse cx="326.3" cy="618.4" rx="4.77" ry="4.60" fill="#b6ff49" transform="rotate(81.4 326.3 618.4)"/>
<circle cx="327.5" cy="626.9" r="4.58" fill="#bcff43"/>
<circle cx="328.8" cy="635.2" r="4.49" fill="#76ff89"/>
<circle cx="330.1" cy="643.5" r="4.49" fill="#c5ff3a"/>
<circle cx="331.3" cy="651.9" r="4.58" fill="#b7ff48"/>
<ellipse cx="332.6" cy="660.3" rx="4.77" ry="4.60" fill="#dbff24" transform="rotate(81.4 332.6 660.3)"/>
<ellipse cx="333.9" cy="669.1" rx="5.08" ry="4.73" fill="#edff12" transform="rotate(81.4 333.9 669.1)"/>
<ellipse cx="335.3" cy="678.2" rx="5.54" ry="4.92" fill="#d9ff26" transform="rotate(81.4 335.3 678.2)"/>
<ellipse cx="336.8" cy="687.9" rx="6.17" ry="5.16" fill="#deff21" transform="rotate(81.4 336.8 687.9)"/>
<ellipse cx="338.4" cy="698.3" rx="7.05" ry="5.47" fill="#e2ff1d" transform="rotate(81.4 338.4 698.3)"/>
<ellipse cx="311.2" cy="582.0" rx="7.05" ry="5.47" fill="#d7ff28" transform="rotate(81.3 311.2 582.0)"/>
<ellipse cx="312.8" cy="592.4" rx="6.17" ry="5.16" fill="#daff25" transform="rotate(81.3 312.8 592.4)"/>
<ellipse cx="314.3" cy="602.1" rx="5.54" ry="4.92" fill="#ddff22" transform="rotate(81.3 314.3 602.1)"/>
<ellipse cx="315.7" cy="611.2" rx="5.08" ry="4.73" fill="#c2ff3d" transform="rotate(81.3 315.7 611.2)"/>
<ellipse cx="317.0" cy="619.9" rx="4.77" ry="4.60" fill="#e5ff1a" transform="rotate(81.3 317.0 619.9)"/>
<circle cx="318.3" cy="628.4" r="4.58" fill="#e1ff1e"/>
<circle cx="319.6" cy="636.7" r="4.49" fill="#e5ff1a"/>
<circle cx="320.8" cy="645.0" r="4.49" fill="#e2ff1d"/>
<circle cx="322.1" cy="653.3" r="4.58" fill="#d0ff2f"/>
<ellipse cx="323.4" cy="661.8" rx="4.77" ry="4.60" fill="#dcff23" transform="rotate(81.3 323.4 661.8)"/>
<ellipse cx="324.7" cy="670.6" rx="5.08" ry="4.73" fill="#dcff23" transform="rotate(81.3 324.7 670.6)"/>
<ellipse cx="326.1" cy="679.7" rx="5.54" ry="4.92" fill="#f8ff07" transform="rotate(81.3 326.1 679.7)"/>
<ellipse cx="327.6" cy="689.4" rx="6.17" ry="5.16" fill="#e5ff1a" transform="rotate(81.3 327.6 689.4)"/>
<ellipse cx="329.2" cy="699.7" rx="7.05" ry="5.47" fill="#efff10" transform="rotate(81.3 329.2 699.7)"/>
<ellipse cx="301.9" cy="583.5" rx="7.05" ry="5.47" fill="#cdff32" transform="rotate(81.3 301.9 583.5)"/>
<ellipse cx="303.5" cy="593.9" rx="6.17" ry="5.16" fill="#c6ff39" transform="rotate(81.3 303.5 593.9)"/>
<ellipse cx="305.0" cy="603.6" rx="5.54" ry="4.92" fill="#c7ff38" transform="rotate(81.3 305.0 603.6)"/>
<ellipse cx="306.4" cy="612.7" rx="5.08" ry="4.73" fill="#caff35" transform="rotate(81.3 306.4 612.7)"/>
<ellipse cx="307.7" cy="621.4" rx="4.77" ry="4.60" fill="#f4ff0b" transform="rotate(81.3 307.7 621.4)"/>
<circle cx="309.0" cy="629.9" r="4.58" fill="#f4ff0b"/>
<circle cx="310.3" cy="638.2" r="4.49" fill="#dcff23"/>
<circle cx="311.6" cy="646.5" r="4.49" fill="#cbff34"/>
<circle cx="312.9" cy="654.8" r="4.58" fill="#c0ff3f"/>
<ellipse cx="314.2" cy="663.3" rx="4.77" ry="4.60" fill="#d2ff2d" transform="rotate(81.3 314.2 663.3)"/>
<ellipse cx="315.5" cy="672.0" rx="5.08" ry="4.73" fill="#edff12" transform="rotate(81.3 315.5 672.0)"/>
<ellipse cx="316.9" cy="681.1" rx="5.54" ry="4.92" fill="#e5ff1a" transform="rotate(81.3 316.9 681.1)"/>
<ellipse cx="318.4" cy="690.8" rx="6.17" ry="5.16" fill="#fff900" transform="rotate(81.3 318.4 690.8)"/>
<ellipse cx="320.0" cy="701.2" rx="7.05" ry="5.47" fill="#faff05" transform="rotate(81.3 320.0 701.2)"/>
<ellipse cx="292.6" cy="585.1" rx="7.05" ry="5.47" fill="#baff45" transform="rotate(81.2 292.6 585.1)"/>
<ellipse cx="294.2" cy="595.5" rx="6.17" ry="5.16" fill="#bcff43" transform="rotate(81.2 294.2 595.5)"/>
<ellipse cx="295.7" cy="605.1" rx="5.54" ry="4.92" fill="#c2ff3d" transform="rotate(81.2 295.7 605.1)"/>
<ellipse cx="297.1" cy="614.2" rx="5.08" ry="4.73" fill="#d6ff29" transform="rotate(81.2 297.1 614.2)"/>
<ellipse cx="298.5" cy="623.0" rx="4.77" ry="4.60" fill="#b4ff4b" transform="rotate(81.2 298.5 623.0)"/>
<circle cx="299.8" cy="631.4" r="4.58" fill="#c4ff3b"/>
<circle cx="301.1" cy="639.7" r="4.49" fill="#c9ff36"/>
<circle cx="302.3" cy="648.0" r="4.49" fill="#dcff23"/>
<circle cx="303.6" cy="656.3" r="4.58" fill="#d4ff2b"/>
<ellipse cx="304.9" cy="664.8" rx="4.77" ry="4.60" fill="#d6ff29" transform="rotate(81.2 304.9 664.8)"/>
<ellipse cx="306.3" cy="673.5" rx="5.08" ry="4.73" fill="#daff25" transform="rotate(81.2 306.3 673.5)"/>
<ellipse cx="307.7" cy="682.6" rx="5.54" ry="4.92" fill="#e0ff1f" transform="rotate(81.2 307.7 682.6)"/>
<ellipse cx="309.2" cy="692.3" rx="6.17" ry="5.16" fill="#deff21" transform="rotate(81.2 309.2 692.3)"/>
<ellipse cx="310.8" cy="702.6" rx="7.05" ry="5.47" fill="#f4ff0b" transform="rotate(81.2 310.8 702.6)"/>
<ellipse cx="283.3" cy="586.6" rx="7.05" ry="5.47" fill="#71ff8e" transform="rotate(81.2 283.3 586.6)"/>
<ellipse cx="285.0" cy="597.0" rx="6.17" ry="5.16" fill="#84ff7b" transform="rotate(81.2 285.0 597.0)"/>
<ellipse cx="286.4" cy="606.6" rx="5.54" ry="4.92" fill="#b0ff4f" transform="rotate(81.2 286.4 606.6)"/>
<ellipse cx="287.9" cy="615.8" rx="5.08" ry="4.73" fill="#beff41" transform="rotate(81.2 287.9 615.8)"/>
<ellipse cx="289.2" cy="624.5" rx="4.77" ry="4.60" fill="#b7ff48" transform="rotate(81.2 289.2 624.5)"/>
<circle cx="290.5" cy="632.9" r="4.58" fill="#a0ff5f"/>
<circle cx="291.8" cy="641.2" r="4.49" fill="#76ff89"/>
<circle cx="293.1" cy="649.5" r="4.49" fill="#b0ff4f"/>
<circle cx="294.4" cy="657.8" r="4.58" fill="#95ff6a"/>
<ellipse cx="295.7" cy="666.2" rx="4.77" ry="4.60" fill="#a8ff57" transform="rotate(81.2 295.7 666.2)"/>
<ellipse cx="297.1" cy="675.0" rx="5.08" ry="4.73" fill="#b8ff47" transform="rotate(81.2 297.1 675.0)"/>
<ellipse cx="298.5" cy="684.1" rx="5.54" ry="4.92" fill="#b6ff49" transform="rotate(81.2 298.5 684.1)"/>
<ellipse cx="300.0" cy="693.7" rx="6.17" ry="5.16" fill="#b4ff4b" transform="rotate(81.2 300.0 693.7)"/>
<ellipse cx="301.6" cy="704.1" rx="7.05" ry="5.47" fill="#d2ff2d" transform="rotate(81.2 301.6 704.1)"/>
<ellipse cx="274.1" cy="588.2" rx="7.05" ry="5.47" fill="#cdff32" transform="rotate(81.1 274.1 588.2)"/>
<ellipse cx="275.7" cy="598.5" rx="6.17" ry="5.16" fill="#c4ff3b" transform="rotate(81.1 275.7 598.5)"/>
<ellipse cx="277.2" cy="608.2" rx="5.54" ry="4.92" fill="#c8ff37" transform="rotate(81.1 277.2 608.2)"/>
<ellipse cx="278.6" cy="617.3" rx="5.08" ry="4.73" fill="#c0ff3f" transform="rotate(81.1 278.6 617.3)"/>
<ellipse cx="280.0" cy="626.0" rx="4.77" ry="4.60" fill="#cdff32" transform="rotate(81.1 280.0 626.0)"/>
<circle cx="281.3" cy="634.4" r="4.58" fill="#b5ff4a"/>
<circle cx="282.6" cy="642.7" r="4.49" fill="#c5ff3a"/>
<circle cx="283.9" cy="651.0" r="4.49" fill="#76ff89"/>
<circle cx="285.2" cy="659.3" r="4.58" fill="#76ff89"/>
<ellipse cx="286.5" cy="667.7" rx="4.77" ry="4.60" fill="#bbff44" transform="rotate(81.1 286.5 667.7)"/>
<ellipse cx="287.8" cy="676.4" rx="5.08" ry="4.73" fill="#e8ff17" transform="rotate(81.1 287.8 676.4)"/>
<ellipse cx="289.3" cy="685.5" rx="5.54" ry="4.92" fill="#edff12" transform="rotate(81.1 289.3 685.5)"/>
<ellipse cx="290.8" cy="695.2" rx="6.17" ry="5.16" fill="#d9ff26" transform="rotate(81.1 290.8 695.2)"/>
<ellipse cx="292.4" cy="705.5" rx="7.05" ry="5.47" fill="#e1ff1e" transform="rotate(81.1 292.4 705.5)"/>
<ellipse cx="264.8" cy="589.8" rx="7.05" ry="5.47" fill="#ffde00" transform="rotate(81.1 264.8 589.8)"/>
<ellipse cx="266.4" cy="600.1" rx="6.17" ry="5.16" fill="#efff10" transform="rotate(81.1 266.4 600.1)"/>
<ellipse cx="267.9" cy="609.7" rx="5.54" ry="4.92" fill="#dcff23" transform="rotate(81.1 267.9 609.7)"/>
<ellipse cx="269.3" cy="618.8" rx="5.08" ry="4.73" fill="#ceff31" transform="rotate(81.1 269.3 618.8)"/>
<ellipse cx="270.7" cy="627.5" rx="4.77" ry="4.60" fill="#ccff33" transform="rotate(81.1 270.7 627.5)"/>
<circle cx="272.0" cy="635.9" r="4.58" fill="#dbff24"/>
<circle cx="273.3" cy="644.2" r="4.49" fill="#d5ff2a"/>
<circle cx="274.6" cy="652.5" r="4.49" fill="#c2ff3d"/>
<circle cx="275.9" cy="660.7" r="4.58" fill="#e0ff1f"/>
<ellipse cx="277.3" cy="669.2" rx="4.77" ry="4.60" fill="#bbff44" transform="rotate(81.1 277.3 669.2)"/>
<ellipse cx="278.6" cy="677.9" rx="5.08" ry="4.73" fill="#e5ff1a" transform="rotate(81.1 278.6 677.9)"/>
<ellipse cx="280.0" cy="687.0" rx="5.54" ry="4.92" fill="#f3ff0c" transform="rotate(81.1 280.0 687.0)"/>
<ellipse cx="281.6" cy="696.6" rx="6.17" ry="5.16" fill="#efff10" transform="rotate(81.1 281.6 696.6)"/>
<ellipse cx="283.2" cy="706.9" rx="7.05" ry="5.47" fill="#ffe800" transform="rotate(81.1 283.2 706.9)"/>
<ellipse cx="255.5" cy="591.3" rx="7.05" ry="5.47" fill="#fff700" transform="rotate(81.0 255.5 591.3)"/>
<ellipse cx="257.1" cy="601.6" rx="6.17" ry="5.16" fill="#feff01" transform="rotate(81.0 257.1 601.6)"/>
<ellipse cx="258.6" cy="611.2" rx="5.54" ry="4.92" fill="#feff01" transform="rotate(81.0 258.6 611.2)"/>
<ellipse cx="260.1" cy="620.3" rx="5.08" ry="4.73" fill="#f4ff0b" transform="rotate(81.0 260.1 620.3)"/>
<ellipse cx="261.4" cy="629.0" rx="4.77" ry="4.60" fill="#efff10" transform="rotate(81.0 261.4 629.0)"/>
<circle cx="262.8" cy="637.4" r="4.58" fill="#d2ff2d"/>
<circle cx="264.1" cy="645.7" r="4.49" fill="#feff01"/>
<circle cx="265.4" cy="654.0" r="4.49" fill="#dcff23"/>
<circle cx="266.7" cy="662.2" r="4.58" fill="#feff01"/>
<ellipse cx="268.0" cy="670.7" rx="4.77" ry="4.60" fill="#b5ff4a" transform="rotate(81.0 268.0 670.7)"/>
<ellipse cx="269.4" cy="679.4" rx="5.08" ry="4.73" fill="#abff54" transform="rotate(81.0 269.4 679.4)"/>
<ellipse cx="270.8" cy="688.4" rx="5.54" ry="4.92" fill="#f4ff0b" transform="rotate(81.0 270.8 688.4)"/>
<ellipse cx="272.4" cy="698.0" rx="6.17" ry="5.16" fill="#ffd900" transform="rotate(81.0 272.4 698.0)"/>
<ellipse cx="274.0" cy="708.4" rx="7.05" ry="5.47" fill="#ffc600" transform="rotate(81.0 274.0 708.4)"/>
<ellipse cx="246.2" cy="592.9" rx="7.05" ry="5.47" fill="#ffe800" transform="rotate(81.0 246.2 592.9)"/>
<ellipse cx="247.8" cy="603.2" rx="6.17" ry="5.16" fill="#ffc600" transform="rotate(81.0 247.8 603.2)"/>
<ellipse cx="249.4" cy="612.8" rx="5.54" ry="4.92" fill="#ffcb00" transform="rotate(81.0 249.4 612.8)"/>
<ellipse cx="250.8" cy="621.8" rx="5.08" ry="4.73" fill="#ffed00" transform="rotate(81.0 250.8 621.8)"/>
<ellipse cx="252.2" cy="630.5" rx="4.77" ry="4.60" fill="#ffe800" transform="rotate(81.0 252.2 630.5)"/>
<circle cx="253.5" cy="639.0" r="4.58" fill="#ffb300"/>
<circle cx="254.8" cy="647.2" r="4.49" fill="#fff700"/>
<circle cx="256.1" cy="655.4" r="4.49" fill="#ffed00"/>
<circle cx="257.5" cy="663.7" r="4.58" fill="#ffd000"/>
<ellipse cx="258.8" cy="672.1" rx="4.77" ry="4.60" fill="#cdff32" transform="rotate(81.0 258.8 672.1)"/>
<ellipse cx="260.2" cy="680.8" rx="5.08" ry="4.73" fill="#b0ff4f" transform="rotate(81.0 260.2 680.8)"/>
<ellipse cx="261.6" cy="689.9" rx="5.54" ry="4.92" fill="#f4ff0b" transform="rotate(81.0 261.6 689.9)"/>
<ellipse cx="263.2" cy="699.5" rx="6.17" ry="5.16" fill="#feff01" transform="rotate(81.0 263.2 699.5)"/>
<ellipse cx="264.8" cy="709.8" rx="7.05" ry="5.47" fill="#ffed00" transform="rotate(81.0 264.8 709.8)"/>
<ellipse cx="236.9" cy="594.4" rx="7.05" ry="5.47" fill="#fffb00" transform="rotate(80.9 236.9 594.4)"/>
<ellipse cx="238.5" cy="604.7" rx="6.17" ry="5.16" fill="#ffc100" transform="rotate(80.9 238.5 604.7)"/>
<ellipse cx="240.1" cy="614.3" rx="5.54" ry="4.92" fill="#ffbc00" transform="rotate(80.9 240.1 614.3)"/>
<ellipse cx="241.5" cy="623.4" rx="5.08" ry="4.73" fill="#ffc600" transform="rotate(80.9 241.5 623.4)"/>
<ellipse cx="242.9" cy="632.0" rx="4.77" ry="4.60" fill="#ffd000" transform="rotate(80.9 242.9 632.0)"/>
<circle cx="244.3" cy="640.5" r="4.58" fill="#ffd500"/>
<circle cx="245.6" cy="648.7" r="4.49" fill="#ffed00"/>
<circle cx="246.9" cy="656.9" r="4.49" fill="#ffb700"/>
<circle cx="248.2" cy="665.2" r="4.58" fill="#a6ff59"/>
<ellipse cx="249.6" cy="673.6" rx="4.77" ry="4.60" fill="#ffd900" transform="rotate(80.9 249.6 673.6)"/>
<ellipse cx="251.0" cy="682.3" rx="5.08" ry="4.73" fill="#ffde00" transform="rotate(80.9 251.0 682.3)"/>
<ellipse cx="252.4" cy="691.3" rx="5.54" ry="4.92" fill="#feff01" transform="rotate(80.9 252.4 691.3)"/>
<ellipse cx="254.0" cy="700.9" rx="6.17" ry="5.16" fill="#dcff23" transform="rotate(80.9 254.0 700.9)"/>
<ellipse cx="255.6" cy="711.2" rx="7.05" ry="5.47" fill="#fffb00" transform="rotate(80.9 255.6 711.2)"/>
</g>
<g fill="none" stroke="#1f6cb5" stroke-width="0.85" stroke-linejoin="round" stroke-linecap="round">
<path d="M148 477.5 C148.9 476.7 150.1 475.6 153.3 472.7 C156.5 469.8 162.1 464.9 167.3 460 C172.5 455.1 179.1 448.6 184.7 443.3 C190.3 438 196.5 431.7 200.7 428 C204.9 424.3 206.9 423.1 210 421.3 C213.1 419.5 216 418.3 219.3 417.3 C222.6 416.3 226.4 415.5 230 415.3 C233.6 415.1 237.1 415.2 240.7 416 C244.2 416.8 247.8 418.2 251.3 420 C254.9 421.8 258.9 424.2 262 426.7 C265.1 429.1 267.8 431.8 270 434.7 C272.2 437.6 274 440.4 275.3 444 C276.6 447.6 277 451.8 277.7 456 C278.4 460.2 278.7 464.9 279.3 469.3 C279.9 473.8 280.7 478.9 281.3 482.7 C281.9 486.5 282.5 490.4 282.7 492"/>
<path d="M284 506.7 C284.4 508.9 284.4 509.8 286.7 520 C288.9 530.2 293.6 550.8 297.5 568 C301.4 585.2 306 605.3 310 623 C314 640.7 317.6 657 321.4 674 C325.2 691 328.9 710.4 332.7 725 C336.5 739.6 339.8 747.6 344 761.8 C348.2 776 354.4 796.3 358.2 810 C362 823.7 363.9 830.7 366.7 844 C369.5 857.3 373.6 882.3 375 890"/>
<path d="M352.3 890 C350.7 876.3 345.8 835.5 342.5 808 C339.2 780.5 335.9 752 332.7 725 C329.4 698 326.2 672.5 323 646 C319.8 619.5 316 587 313.3 566 C310.6 545 309 537.7 306.7 520 C304.4 502.3 301 473.3 299.3 460 C297.6 446.7 297.4 446.7 296.5 440 C295.6 433.3 294.8 425.8 294 420 C293.2 414.2 292.6 409.7 292 405 C291.4 400.3 290.8 396.2 290.5 392 C290.2 387.8 290 383.7 290.3 380 C290.6 376.3 291.5 373.2 292.5 370 C293.5 366.8 294.8 364 296.5 361 C298.2 358 300.6 354.8 303 352 C305.4 349.2 308.2 346.6 311 344.5 C313.8 342.4 317.3 340.8 320 339.5 C322.7 338.2 324.7 337.5 327 336.8 C329.3 336.1 331.6 335.8 334 335.5 C336.4 335.2 339 335.2 341.5 335.2 C344 335.2 346.8 335.2 349 335.5 C351.2 335.8 351.2 335.7 355 337 C358.8 338.3 366.2 341.1 372 343.2 C377.8 345.3 377.8 345 390 349.5 C402.2 354 426.7 363.1 445 370 C463.3 376.9 484.2 384.4 500 390.7 C515.8 397 523.3 400.6 540 407.7 C556.7 414.8 581.7 425.5 600 433.3 C618.3 441.1 638.9 449.9 650 454.6 C661.1 459.3 662 459.3 666.7 461.7 C671.4 464.1 674.7 466.1 678 469 C681.3 471.9 684.2 475.3 686.7 479 C689.2 482.7 691.3 486.9 693 491 C694.7 495.1 695.7 499 696.7 503.3 C697.7 507.6 698.6 512.5 699 517 C699.4 521.5 699.5 524.5 699.3 530 C699.1 535.5 698.4 543.3 698 550 C697.6 556.7 697.2 563.3 696.7 570 C696.2 576.7 695.6 585 695 590 C694.4 595 693.7 596.1 693.3 600 C692.9 603.9 693.1 607.8 692.7 613.3 C692.3 618.8 691.7 626.6 690.7 633.3 C689.7 640 688 647.7 686.7 653.3 C685.4 658.9 685.2 661.8 682.7 666.7 C680.2 671.6 673.8 680 672 682.7"/>
<path d="M664.7 693.3 C661.2 698.1 650.3 713.4 644 722 C637.7 730.6 632.7 737.2 627 744.8 C621.3 752.4 615.7 761.1 610 767.5 C604.3 773.9 598.7 779 593 783 C587.3 787 581.2 789.9 576 791.6 C570.8 793.3 566.5 793.5 561.8 793 C557.1 792.5 552.4 791.2 547.7 788.8 C543 786.4 540.1 783.3 533.5 778.8 C526.9 774.3 516.9 767.5 508 761.8 C499.1 756.1 491.3 752.3 480 744.8 C468.7 737.3 451.8 725 440 717 C428.2 709 417.6 702.4 409.2 696.7 C400.8 691 395.5 686.1 389.4 682.8 C383.3 679.5 378.1 677.3 372.4 676.8 C366.7 676.3 361.1 678 355.4 679.7 C349.7 681.4 352.8 679.4 338.4 686.8 C324 694.2 300.5 708.1 268.9 724.2 C237.3 740.4 170.5 773 149 783.7 C127.5 794.4 141.5 787.5 140 788.2"/>
<path d="M140 851.6 C141.2 850.8 114.9 868 147 846.9 C179.1 825.8 280.5 759.5 332.7 725 C384.9 690.5 432.3 658.8 460.2 640 C488.1 621.2 482.2 625.5 500 612.5 C517.8 599.5 548.4 575.2 566.7 562 C585 548.8 599 539.8 610 533.5 C621 527.2 627.2 526.1 633 524 C638.8 521.9 641 521.7 645 521 C649 520.3 652 519.9 656.7 520 C661.4 520.1 667.5 520 673 521.7 C678.5 523.4 684.4 525.3 690 530 C695.6 534.7 700.6 541.2 706.7 550 C712.8 558.8 721.2 574.7 726.7 583 C732.2 591.3 736.7 595.4 740 600 C743.3 604.6 745.1 607.2 746.7 610.8 C748.3 614.4 749 618 749.6 621.7 C750.2 625.5 750.5 629.7 750.4 633.3 C750.3 636.9 749.7 640.2 749.2 643.3 C748.7 646.4 748.5 648.5 747.5 651.7 C746.5 654.9 744.8 658.6 743.3 662.5 C741.8 666.4 740 670.3 738.3 675 C736.6 679.7 735.9 685.4 733.3 690.7 C730.7 696 726.7 701.8 722.7 706.7 C718.7 711.6 714 716 709.3 720 C704.6 724 699 728 694.7 730.5 C690.4 733 695 732.6 683.7 735 C672.4 737.4 667.6 737.5 627 744.8 C586.4 752.1 498 767.7 440 778.8 C382 789.9 305.7 806 278.8 811.4"/>
<path d="M269 813.4 L147 837 L140 838.4"/>
<path d="M140 669 C141.8 668.8 140.8 668.8 150.8 667.5 C160.8 666.2 163.5 665.8 200 661.3 C236.5 656.8 320 647.5 370 640.6 C420 633.7 461.7 626.8 500 620 C538.3 613.2 571.2 605.8 600 600 C628.8 594.2 657.5 588.9 673 585 C688.5 581.1 686.3 579.5 693 576.7 C699.7 573.9 707.7 570 713 568 C718.3 566 721.2 565.3 725 564.5 C728.8 563.7 731.8 563.2 735.5 563.3 C739.2 563.4 743.4 564 747 565 C750.6 566 753.8 567.2 757 569 C760.2 570.8 763.4 573.2 766 576 C768.6 578.8 770.7 582 772.5 586 C774.3 590 776 596 776.7 600 C777.4 604 776.9 606.8 776.6 610 C776.3 613.2 775.8 615.8 775 619 C774.2 622.2 773.4 625.8 771.7 629.2 C770 632.6 767.5 636.3 765 639.2 C762.5 642.1 759.5 644.8 756.7 646.7 C753.9 648.6 751.1 649.8 748.3 650.8 C745.5 651.8 743.5 652.2 740 652.9 C736.5 653.6 733 654 727.5 655 C722 656 713 657.6 706.7 658.8 C700.5 659.9 701.1 659.8 690 661.7 C678.9 663.6 657.6 666.9 640 670 C622.4 673.1 593.8 678.5 584.5 680.2"/>
<path d="M564.7 683.9 L440 706.6 L332.7 725 L149.4 758.2 L140 759.9"/>
<path d="M140 714.7 C141.7 714.4 121.6 717.7 149.9 713.1 C178.2 708.5 255 696.2 310 687.3 C365 678.4 448.3 665 480 659.8 C511.7 654.6 480 660.1 500 656.3 C520 652.4 572.2 642.2 600 636.7 C627.8 631.2 651.7 626.4 666.7 623 C681.7 619.6 684 617.9 690 616.6 C696 615.3 698.3 615 702.5 615.4 C706.7 615.8 711.1 617.3 715 619.2 C718.9 621.1 722.8 623.8 725.8 626.7 C728.8 629.6 731.2 633.4 733.3 636.7 C735.4 640 737 643.4 738.3 646.7 C739.5 650 740.5 653.7 740.8 656.7 C741.1 659.7 741 661.7 740.3 664.5 C739.6 667.3 738.8 670.3 736.7 673.3 C734.6 676.3 731.1 679.9 727.5 682.5 C723.9 685.1 719.6 687.5 715 689.2 C710.4 690.9 705.7 691.6 700 692.6 C694.3 693.6 704.1 691.3 680.8 695.3 C657.5 699.3 600.1 709.5 560 716.6 C519.9 723.7 508.6 724.6 440 737.8 C371.4 751 198.5 785.9 148.5 795.9 C98.5 805.9 141.4 797.3 140 797.6"/>
<path d="M140 722.6 C141.7 722.6 117.8 722.3 149.9 722.7 C182 723.1 277.7 724.2 332.7 725 C387.7 725.8 432.4 726.5 480 727.3 C527.6 728.1 584.3 729 618.3 729.6 C652.2 730.2 670.6 730.2 683.7 730.7 C696.8 731.2 692 731 696.7 732.5 C701.4 734 707 736.5 711.7 740 C716.4 743.5 721.1 748.6 725 753.3 C728.9 758 732.5 763.3 735 768.3 C737.5 773.3 739 778.8 740 783.3 C741 787.8 741.2 791.2 741 795 C740.8 798.8 740.5 800.7 739 806 C737.5 811.3 736.4 819.2 731.9 827 C727.4 834.8 720 843 712 852.5 C704 862 689.4 877.5 683.7 883.7 C678 890 679 889 678 890"/>
</g>
<g fill="none" stroke="#a8a8a8" stroke-width="1" stroke-dasharray="1 3">
<path d="M218 272.4 L209.2 883.8"/>
<path d="M372.6 274.2 L367.6 885.6"/>
<path d="M527.1 275 L526 886.3"/>
<path d="M681.7 274.8 L684.4 886.1"/>
<path d="M836.3 273.6 L842.8 885"/>
<path d="M153 459.6 L188 460.1 L223.1 460.6 L258.1 461.1 L293.2 461.5 L328.2 461.9 L363.2 462.2 L398.3 462.5 L433.3 462.7 L468.4 462.9 L503.4 463 L538.5 463.1 L573.5 463.1 L608.5 463.1 L643.6 463 L678.6 462.9 L713.7 462.7 L748.7 462.5 L783.8 462.2 L818.8 461.9 L853.8 461.5 L888.9 461.1 L923.9 460.6 L959 460.1 L994 459.6"/>
<path d="M149 694.7 L184.4 695.2 L219.8 695.8 L255.1 696.2 L290.5 696.7 L325.9 697 L361.3 697.4 L396.6 697.6 L432 697.9 L467.4 698 L502.8 698.2 L538.1 698.2 L573.5 698.3 L608.9 698.2 L644.2 698.2 L679.6 698 L715 697.9 L750.4 697.6 L785.7 697.4 L821.1 697 L856.5 696.7 L891.9 696.2 L927.2 695.8 L962.6 695.2 L998 694.7"/>
</g>
</g>
<path d="M156.2 271.5 L191 272 L225.7 272.5 L260.5 273 L295.3 273.4 L330.1 273.8 L364.8 274.1 L399.6 274.4 L434.4 274.6 L469.2 274.8 L503.9 274.9 L538.7 275 L573.5 275 L608.3 275 L643.1 274.9 L677.8 274.8 L712.6 274.6 L747.4 274.4 L782.2 274.1 L816.9 273.8 L851.7 273.4 L886.5 273 L921.3 272.5 L956 272 L990.8 271.5 L1001.2 882.8 L965.5 883.3 L929.9 883.9 L894.3 884.4 L858.6 884.8 L823 885.2 L787.3 885.5 L751.7 885.8 L716.1 886 L680.4 886.2 L644.8 886.3 L609.1 886.4 L573.5 886.4 L537.9 886.4 L502.2 886.3 L466.6 886.2 L430.9 886 L395.3 885.8 L359.7 885.5 L324 885.2 L288.4 884.8 L252.7 884.4 L217.1 883.9 L181.5 883.3 L145.8 882.8 L156.2 271.5Z" fill="none" stroke="#262626" stroke-width="4" stroke-linejoin="miter"/>
<path d="M990.8 272.9 L1001.2 882.8" fill="none" stroke="#f0f0f0" stroke-width="1.3" stroke-dasharray="1.1 2.9"/>
<rect x="152.4" y="459" width="1.2" height="1.2" fill="#e6e6e6"/>
<rect x="148.4" y="694.1" width="1.2" height="1.2" fill="#e6e6e6"/>
<rect x="217.4" y="271.8" width="1.2" height="1.2" fill="#e6e6e6"/>
<rect x="208.6" y="883.2" width="1.2" height="1.2" fill="#e6e6e6"/>
<rect x="372" y="273.6" width="1.2" height="1.2" fill="#e6e6e6"/>
<rect x="367" y="885" width="1.2" height="1.2" fill="#e6e6e6"/>
<rect x="526.5" y="274.4" width="1.2" height="1.2" fill="#e6e6e6"/>
<rect x="525.4" y="885.7" width="1.2" height="1.2" fill="#e6e6e6"/>
<rect x="681.1" y="274.2" width="1.2" height="1.2" fill="#e6e6e6"/>
<rect x="683.8" y="885.5" width="1.2" height="1.2" fill="#e6e6e6"/>
<rect x="835.7" y="273" width="1.2" height="1.2" fill="#e6e6e6"/>
<rect x="842.2" y="884.4" width="1.2" height="1.2" fill="#e6e6e6"/>
<text class="t" x="575.3" y="226.7">rdr20190806T155325end20190806T235340sdr20190807T010057</text>
<text class="t" x="574.5" y="259.2">Segment [-15, 30, 31, 32] 2019-08-06 19:53:39 - 20:08:22</text>
<text class="g" x="169.6" y="931.6" transform="matrix(1 0 0 1.06 0 -55.9)">119.0<tspan class="d" dx="0.4" dy="-10.1">°</tspan><tspan dy="10.1" dx="6.8">W</tspan></text>
<text class="g" x="328.2" y="933.2" transform="matrix(1 0 0 1.06 0 -56)">118.5<tspan class="d" dx="0.4" dy="-10.1">°</tspan><tspan dy="10.1" dx="6.8">W</tspan></text>
<text class="g" x="486" y="934" transform="matrix(1 0 0 1.06 0 -56)">118.0<tspan class="d" dx="0.4" dy="-10.1">°</tspan><tspan dy="10.1" dx="6.8">W</tspan></text>
<text class="g" x="643.8" y="934" transform="matrix(1 0 0 1.06 0 -56)">117.5<tspan class="d" dx="0.4" dy="-10.1">°</tspan><tspan dy="10.1" dx="6.8">W</tspan></text>
<text class="g" x="803" y="933.2" transform="matrix(1 0 0 1.06 0 -56)">117.0<tspan class="d" dx="0.4" dy="-10.1">°</tspan><tspan dy="10.1" dx="6.8">W</tspan></text>
<text class="g" x="960.8" y="931.4" transform="matrix(1 0 0 1.06 0 -55.9)">116.5<tspan class="d" dx="0.4" dy="-10.1">°</tspan><tspan dy="10.1" dx="6.8">W</tspan></text>
<text class="g" x="71.7" y="467.5" transform="matrix(1 0 0 1.06 0 -28.1)">48.5<tspan class="d" dx="0.4" dy="-10.1">°</tspan><tspan dy="10.1" dx="6.8">N</tspan></text>
<text class="g" x="67.7" y="702.2" transform="matrix(1 0 0 1.06 0 -42.1)">48.0<tspan class="d" dx="0.4" dy="-10.1">°</tspan><tspan dy="10.1" dx="6.8">N</tspan></text>
<rect x="1019.5" y="270.2" width="34.0" height="617.0" fill="url(#jet)" stroke="#262626" stroke-width="1.3"/>
<path d="M1046.3 857.4 H1053.5" stroke="#262626" stroke-width="0.9"/>
<text class="c" x="1062" y="866.4" transform="matrix(1 0 0 1.06 0 -52)">260</text>
<path d="M1046.3 798.7 H1053.5" stroke="#262626" stroke-width="0.9"/>
<text class="c" x="1062" y="807.7" transform="matrix(1 0 0 1.06 0 -48.5)">270</text>
<path d="M1046.3 739.9 H1053.5" stroke="#262626" stroke-width="0.9"/>
<text class="c" x="1062" y="748.9" transform="matrix(1 0 0 1.06 0 -44.9)">280</text>
<path d="M1046.3 681.1 H1053.5" stroke="#262626" stroke-width="0.9"/>
<text class="c" x="1062" y="690.1" transform="matrix(1 0 0 1.06 0 -41.4)">290</text>
<path d="M1046.3 622.4 H1053.5" stroke="#262626" stroke-width="0.9"/>
<text class="c" x="1062" y="631.4" transform="matrix(1 0 0 1.06 0 -37.9)">300</text>
<path d="M1046.3 563.6 H1053.5" stroke="#262626" stroke-width="0.9"/>
<text class="c" x="1062" y="572.6" transform="matrix(1 0 0 1.06 0 -34.4)">310</text>
<path d="M1046.3 504.8 H1053.5" stroke="#262626" stroke-width="0.9"/>
<text class="c" x="1062" y="513.8" transform="matrix(1 0 0 1.06 0 -30.8)">320</text>
<path d="M1046.3 446.1 H1053.5" stroke="#262626" stroke-width="0.9"/>
<text class="c" x="1062" y="455.1" transform="matrix(1 0 0 1.06 0 -27.3)">330</text>
<path d="M1046.3 387.3 H1053.5" stroke="#262626" stroke-width="0.9"/>
<text class="c" x="1062" y="396.3" transform="matrix(1 0 0 1.06 0 -23.8)">340</text>
<path d="M1046.3 328.6 H1053.5" stroke="#262626" stroke-width="0.9"/>
<text class="c" x="1062" y="337.6" transform="matrix(1 0 0 1.06 0 -20.3)">350</text>
<text class="c" x="1062" y="278.8" transform="matrix(1 0 0 1.06 0 -16.7)">360</text>
</svg></body></html>
